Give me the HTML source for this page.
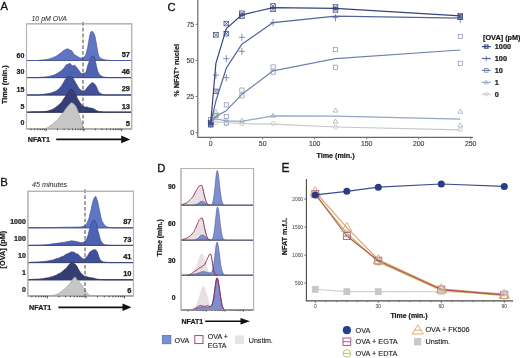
<!DOCTYPE html>
<html><head><meta charset="utf-8"><style>
html,body{margin:0;padding:0;background:#fff;width:520px;height:358px;overflow:hidden}
svg{display:block;font-family:"Liberation Sans", sans-serif;filter:blur(0.35px)}
</style></head><body>
<svg width="520" height="358" viewBox="0 0 520 358">
<rect width="520" height="358" fill="#fff"/>
<rect x="26.5" y="23.8" width="105.2" height="105.0" fill="#fff" stroke="#b4b4b4" stroke-width="1.1"/>
<path d="M27.0,60.50 L27.0,60.50 L27.5,60.50 L28.0,60.50 L28.5,60.50 L29.0,60.50 L29.5,60.50 L30.0,60.50 L30.5,60.50 L31.0,60.50 L31.5,60.50 L32.0,60.50 L32.5,60.50 L33.0,60.50 L33.5,60.50 L34.0,60.50 L34.5,60.50 L35.0,60.50 L35.5,60.50 L36.0,60.50 L36.5,60.50 L37.0,60.50 L37.5,60.50 L38.0,60.50 L38.5,60.50 L39.0,60.50 L39.5,60.18 L40.0,60.15 L40.5,60.11 L41.0,60.07 L41.5,60.03 L42.0,59.99 L42.5,59.94 L43.0,59.89 L43.5,59.83 L44.0,59.78 L44.5,59.71 L45.0,59.65 L45.5,59.58 L46.0,59.51 L46.5,59.41 L47.0,59.30 L47.5,59.20 L48.0,59.13 L48.5,59.13 L49.0,59.06 L49.5,58.88 L50.0,58.60 L50.5,58.35 L51.0,58.24 L51.5,58.15 L52.0,58.13 L52.5,57.85 L53.0,57.63 L53.5,57.21 L54.0,57.13 L54.5,57.00 L55.0,56.79 L55.5,56.53 L56.0,56.13 L56.5,56.00 L57.0,55.44 L57.5,55.29 L58.0,54.97 L58.5,54.77 L59.0,54.12 L59.5,53.47 L60.0,53.15 L60.5,53.14 L61.0,53.09 L61.5,52.83 L62.0,52.04 L62.5,51.44 L63.0,50.87 L63.5,50.66 L64.0,50.53 L64.5,50.04 L65.0,49.71 L65.5,49.49 L66.0,49.43 L66.5,49.19 L67.0,48.90 L67.5,48.79 L68.0,48.85 L68.5,49.17 L69.0,49.26 L69.5,49.81 L70.0,50.02 L70.5,50.33 L71.0,50.37 L71.5,50.68 L72.0,51.08 L72.5,51.99 L73.0,52.60 L73.5,53.55 L74.0,54.15 L74.5,54.80 L75.0,55.23 L75.5,55.33 L76.0,55.59 L76.5,55.73 L77.0,56.12 L77.5,56.40 L78.0,56.84 L78.5,57.09 L79.0,57.40 L79.5,57.68 L80.0,57.77 L80.5,57.97 L81.0,57.99 L81.5,58.17 L82.0,57.96 L82.5,57.84 L83.0,57.67 L83.5,57.58 L84.0,57.19 L84.5,56.76 L85.0,56.03 L85.5,55.33 L86.0,53.92 L86.5,52.35 L87.0,50.21 L87.5,48.34 L88.0,45.95 L88.5,43.14 L89.0,39.77 L89.5,37.05 L90.0,34.87 L90.5,32.97 L91.0,31.77 L91.5,31.28 L92.0,31.14 L92.5,31.58 L93.0,32.08 L93.5,32.91 L94.0,33.63 L94.5,34.85 L95.0,36.61 L95.5,38.59 L96.0,41.56 L96.5,44.48 L97.0,47.80 L97.5,50.51 L98.0,53.28 L98.5,55.06 L99.0,56.35 L99.5,56.93 L100.0,57.51 L100.5,57.92 L101.0,58.44 L101.5,58.71 L102.0,58.97 L102.5,59.11 L103.0,59.32 L103.5,59.47 L104.0,59.54 L104.5,59.68 L105.0,59.81 L105.5,59.92 L106.0,60.02 L106.5,60.11 L107.0,60.18 L107.5,60.23 L108.0,60.28 L108.5,60.31 L109.0,60.34 L109.5,60.37 L110.0,60.40 L110.5,60.50 L111.0,60.50 L111.5,60.50 L112.0,60.50 L112.5,60.50 L113.0,60.50 L113.5,60.50 L114.0,60.50 L114.5,60.50 L115.0,60.50 L115.5,60.50 L116.0,60.50 L116.5,60.50 L117.0,60.50 L117.5,60.50 L118.0,60.50 L118.5,60.50 L119.0,60.50 L119.5,60.50 L120.0,60.50 L120.5,60.50 L121.0,60.50 L121.5,60.50 L122.0,60.50 L122.5,60.50 L123.0,60.50 L123.5,60.50 L124.0,60.50 L124.5,60.50 L125.0,60.50 L125.5,60.50 L126.0,60.50 L126.5,60.50 L127.0,60.50 L127.5,60.50 L128.0,60.50 L128.5,60.50 L129.0,60.50 L129.5,60.50 L130.0,60.50 L130.5,60.50 L131.0,60.50 L131.2,60.50 Z" fill="#6076c4" stroke="#44559c" stroke-width="0.7" stroke-linejoin="round"/>
<line x1="26.5" y1="60.50" x2="131.7" y2="60.50" stroke="#4c5890" stroke-width="1.0"/>
<path d="M27.0,77.60 L27.0,77.60 L27.5,77.60 L28.0,77.60 L28.5,77.60 L29.0,77.60 L29.5,77.60 L30.0,77.60 L30.5,77.60 L31.0,77.60 L31.5,77.60 L32.0,77.60 L32.5,77.60 L33.0,77.60 L33.5,77.60 L34.0,77.60 L34.5,77.60 L35.0,77.60 L35.5,77.60 L36.0,77.60 L36.5,77.60 L37.0,77.60 L37.5,77.60 L38.0,77.60 L38.5,77.60 L39.0,77.60 L39.5,77.29 L40.0,77.26 L40.5,77.24 L41.0,77.22 L41.5,77.19 L42.0,77.17 L42.5,77.14 L43.0,77.10 L43.5,77.07 L44.0,77.03 L44.5,76.99 L45.0,76.95 L45.5,76.90 L46.0,76.84 L46.5,76.79 L47.0,76.72 L47.5,76.65 L48.0,76.66 L48.5,76.56 L49.0,76.42 L49.5,76.25 L50.0,76.15 L50.5,75.99 L51.0,75.94 L51.5,75.77 L52.0,75.65 L52.5,75.49 L53.0,75.33 L53.5,75.25 L54.0,75.09 L54.5,74.83 L55.0,74.56 L55.5,74.32 L56.0,74.14 L56.5,73.86 L57.0,73.34 L57.5,73.22 L58.0,72.89 L58.5,72.84 L59.0,72.24 L59.5,72.09 L60.0,71.40 L60.5,71.29 L61.0,71.00 L61.5,70.73 L62.0,69.94 L62.5,69.39 L63.0,69.01 L63.5,68.88 L64.0,68.08 L64.5,67.40 L65.0,66.54 L65.5,65.92 L66.0,65.18 L66.5,64.74 L67.0,64.68 L67.5,64.53 L68.0,64.33 L68.5,63.93 L69.0,63.59 L69.5,63.53 L70.0,63.50 L70.5,63.87 L71.0,64.43 L71.5,64.95 L72.0,65.45 L72.5,65.79 L73.0,66.01 L73.5,65.73 L74.0,65.31 L74.5,65.30 L75.0,65.60 L75.5,66.24 L76.0,66.55 L76.5,67.42 L77.0,67.86 L77.5,68.66 L78.0,69.23 L78.5,69.91 L79.0,70.47 L79.5,71.19 L80.0,71.99 L80.5,72.85 L81.0,73.26 L81.5,73.52 L82.0,73.58 L82.5,73.55 L83.0,73.43 L83.5,73.33 L84.0,73.17 L84.5,73.15 L85.0,72.86 L85.5,72.63 L86.0,71.81 L86.5,70.36 L87.0,68.49 L87.5,66.49 L88.0,64.77 L88.5,63.33 L89.0,62.12 L89.5,60.78 L90.0,59.75 L90.5,58.78 L91.0,57.85 L91.5,56.77 L92.0,55.97 L92.5,55.93 L93.0,55.96 L93.5,56.16 L94.0,56.58 L94.5,57.61 L95.0,59.27 L95.5,61.67 L96.0,63.99 L96.5,66.48 L97.0,68.60 L97.5,70.56 L98.0,71.74 L98.5,72.76 L99.0,73.74 L99.5,74.37 L100.0,75.01 L100.5,75.39 L101.0,75.80 L101.5,76.11 L102.0,76.32 L102.5,76.49 L103.0,76.71 L103.5,76.90 L104.0,77.06 L104.5,77.18 L105.0,77.27 L105.5,77.33 L106.0,77.38 L106.5,77.42 L107.0,77.45 L107.5,77.47 L108.0,77.50 L108.5,77.60 L109.0,77.60 L109.5,77.60 L110.0,77.60 L110.5,77.60 L111.0,77.60 L111.5,77.60 L112.0,77.60 L112.5,77.60 L113.0,77.60 L113.5,77.60 L114.0,77.60 L114.5,77.60 L115.0,77.60 L115.5,77.60 L116.0,77.60 L116.5,77.60 L117.0,77.60 L117.5,77.60 L118.0,77.60 L118.5,77.60 L119.0,77.60 L119.5,77.60 L120.0,77.60 L120.5,77.60 L121.0,77.60 L121.5,77.60 L122.0,77.60 L122.5,77.60 L123.0,77.60 L123.5,77.60 L124.0,77.60 L124.5,77.60 L125.0,77.60 L125.5,77.60 L126.0,77.60 L126.5,77.60 L127.0,77.60 L127.5,77.60 L128.0,77.60 L128.5,77.60 L129.0,77.60 L129.5,77.60 L130.0,77.60 L130.5,77.60 L131.0,77.60 L131.2,77.60 Z" fill="#4f63b2" stroke="#37468c" stroke-width="0.7" stroke-linejoin="round"/>
<line x1="26.5" y1="77.60" x2="131.7" y2="77.60" stroke="#414c80" stroke-width="1.0"/>
<path d="M27.0,95.00 L27.0,95.00 L27.5,95.00 L28.0,95.00 L28.5,95.00 L29.0,95.00 L29.5,95.00 L30.0,95.00 L30.5,95.00 L31.0,95.00 L31.5,95.00 L32.0,95.00 L32.5,95.00 L33.0,95.00 L33.5,95.00 L34.0,95.00 L34.5,95.00 L35.0,95.00 L35.5,95.00 L36.0,95.00 L36.5,95.00 L37.0,95.00 L37.5,95.00 L38.0,95.00 L38.5,95.00 L39.0,95.00 L39.5,94.68 L40.0,94.64 L40.5,94.60 L41.0,94.55 L41.5,94.50 L42.0,94.44 L42.5,94.38 L43.0,94.32 L43.5,94.25 L44.0,94.19 L44.5,94.11 L45.0,94.04 L45.5,93.99 L46.0,93.86 L46.5,93.75 L47.0,93.67 L47.5,93.65 L48.0,93.63 L48.5,93.53 L49.0,93.41 L49.5,93.33 L50.0,93.27 L50.5,93.06 L51.0,92.88 L51.5,92.81 L52.0,92.65 L52.5,92.52 L53.0,92.20 L53.5,92.00 L54.0,91.80 L54.5,91.73 L55.0,91.57 L55.5,91.15 L56.0,90.94 L56.5,90.75 L57.0,90.44 L57.5,89.81 L58.0,89.44 L58.5,89.26 L59.0,89.04 L59.5,88.33 L60.0,87.53 L60.5,87.25 L61.0,86.61 L61.5,86.04 L62.0,85.17 L62.5,84.26 L63.0,83.48 L63.5,82.49 L64.0,81.73 L64.5,80.68 L65.0,79.72 L65.5,79.12 L66.0,78.53 L66.5,77.88 L67.0,77.30 L67.5,76.77 L68.0,76.65 L68.5,76.52 L69.0,76.62 L69.5,76.46 L70.0,76.29 L70.5,76.20 L71.0,76.49 L71.5,76.93 L72.0,77.24 L72.5,77.66 L73.0,78.01 L73.5,78.94 L74.0,79.81 L74.5,80.86 L75.0,81.56 L75.5,82.66 L76.0,83.45 L76.5,84.29 L77.0,84.99 L77.5,85.94 L78.0,86.90 L78.5,87.73 L79.0,88.60 L79.5,89.05 L80.0,89.25 L80.5,89.72 L81.0,90.36 L81.5,90.78 L82.0,90.87 L82.5,90.81 L83.0,90.87 L83.5,90.94 L84.0,90.83 L84.5,90.57 L85.0,90.25 L85.5,89.82 L86.0,89.25 L86.5,88.47 L87.0,87.85 L87.5,87.08 L88.0,86.49 L88.5,86.17 L89.0,85.58 L89.5,84.96 L90.0,84.23 L90.5,83.93 L91.0,83.42 L91.5,83.15 L92.0,82.82 L92.5,82.73 L93.0,82.87 L93.5,83.26 L94.0,83.55 L94.5,83.90 L95.0,84.40 L95.5,85.24 L96.0,85.98 L96.5,86.92 L97.0,88.18 L97.5,89.54 L98.0,90.71 L98.5,91.59 L99.0,92.17 L99.5,92.66 L100.0,93.18 L100.5,93.46 L101.0,93.74 L101.5,93.95 L102.0,94.16 L102.5,94.34 L103.0,94.49 L103.5,94.63 L104.0,94.74 L104.5,94.82 L105.0,94.88 L105.5,94.92 L106.0,94.95 L106.5,94.96 L107.0,94.98 L107.5,94.99 L108.0,95.00 L108.5,95.00 L109.0,95.00 L109.5,95.00 L110.0,95.00 L110.5,95.00 L111.0,95.00 L111.5,95.00 L112.0,95.00 L112.5,95.00 L113.0,95.00 L113.5,95.00 L114.0,95.00 L114.5,95.00 L115.0,95.00 L115.5,95.00 L116.0,95.00 L116.5,95.00 L117.0,95.00 L117.5,95.00 L118.0,95.00 L118.5,95.00 L119.0,95.00 L119.5,95.00 L120.0,95.00 L120.5,95.00 L121.0,95.00 L121.5,95.00 L122.0,95.00 L122.5,95.00 L123.0,95.00 L123.5,95.00 L124.0,95.00 L124.5,95.00 L125.0,95.00 L125.5,95.00 L126.0,95.00 L126.5,95.00 L127.0,95.00 L127.5,95.00 L128.0,95.00 L128.5,95.00 L129.0,95.00 L129.5,95.00 L130.0,95.00 L130.5,95.00 L131.0,95.00 L131.2,95.00 Z" fill="#43519c" stroke="#2f3b78" stroke-width="0.7" stroke-linejoin="round"/>
<line x1="26.5" y1="95.00" x2="131.7" y2="95.00" stroke="#3a4470" stroke-width="1.0"/>
<path d="M27.0,112.20 L27.0,112.20 L27.5,112.20 L28.0,112.20 L28.5,112.20 L29.0,112.20 L29.5,112.20 L30.0,111.90 L30.5,111.89 L31.0,111.89 L31.5,111.88 L32.0,111.87 L32.5,111.87 L33.0,111.86 L33.5,111.86 L34.0,111.85 L34.5,111.84 L35.0,111.84 L35.5,111.83 L36.0,111.82 L36.5,111.82 L37.0,111.81 L37.5,111.80 L38.0,111.79 L38.5,111.77 L39.0,111.76 L39.5,111.75 L40.0,111.73 L40.5,111.71 L41.0,111.69 L41.5,111.67 L42.0,111.64 L42.5,111.61 L43.0,111.58 L43.5,111.55 L44.0,111.51 L44.5,111.48 L45.0,111.44 L45.5,111.38 L46.0,111.29 L46.5,111.28 L47.0,111.17 L47.5,111.00 L48.0,110.90 L48.5,110.79 L49.0,110.70 L49.5,110.46 L50.0,110.26 L50.5,110.12 L51.0,109.93 L51.5,109.70 L52.0,109.54 L52.5,109.43 L53.0,109.17 L53.5,108.70 L54.0,108.38 L54.5,108.16 L55.0,107.86 L55.5,107.41 L56.0,107.11 L56.5,106.86 L57.0,106.34 L57.5,106.03 L58.0,105.71 L58.5,105.28 L59.0,104.76 L59.5,104.15 L60.0,103.86 L60.5,103.29 L61.0,102.64 L61.5,102.22 L62.0,101.68 L62.5,101.00 L63.0,99.92 L63.5,99.13 L64.0,98.32 L64.5,97.70 L65.0,96.88 L65.5,96.34 L66.0,95.52 L66.5,94.78 L67.0,94.32 L67.5,93.51 L68.0,92.80 L68.5,91.76 L69.0,91.38 L69.5,90.71 L70.0,90.09 L70.5,89.63 L71.0,89.14 L71.5,89.14 L72.0,89.21 L72.5,89.88 L73.0,90.39 L73.5,91.17 L74.0,92.09 L74.5,93.23 L75.0,93.71 L75.5,94.26 L76.0,94.94 L76.5,96.11 L77.0,97.46 L77.5,98.67 L78.0,99.49 L78.5,100.27 L79.0,101.09 L79.5,102.02 L80.0,102.48 L80.5,103.29 L81.0,104.04 L81.5,104.90 L82.0,105.45 L82.5,105.80 L83.0,105.94 L83.5,106.27 L84.0,106.43 L84.5,106.93 L85.0,107.02 L85.5,107.16 L86.0,107.12 L86.5,107.01 L87.0,106.98 L87.5,107.27 L88.0,107.40 L88.5,107.79 L89.0,107.63 L89.5,107.94 L90.0,107.70 L90.5,107.94 L91.0,107.97 L91.5,108.37 L92.0,108.31 L92.5,108.38 L93.0,108.54 L93.5,108.67 L94.0,108.93 L94.5,109.23 L95.0,109.67 L95.5,109.96 L96.0,110.26 L96.5,110.51 L97.0,110.77 L97.5,111.02 L98.0,111.21 L98.5,111.36 L99.0,111.48 L99.5,111.57 L100.0,111.65 L100.5,111.71 L101.0,111.76 L101.5,111.81 L102.0,111.87 L102.5,111.92 L103.0,111.96 L103.5,112.00 L104.0,112.04 L104.5,112.07 L105.0,112.09 L105.5,112.12 L106.0,112.14 L106.5,112.16 L107.0,112.17 L107.5,112.19 L108.0,112.20 L108.5,112.20 L109.0,112.20 L109.5,112.20 L110.0,112.20 L110.5,112.20 L111.0,112.20 L111.5,112.20 L112.0,112.20 L112.5,112.20 L113.0,112.20 L113.5,112.20 L114.0,112.20 L114.5,112.20 L115.0,112.20 L115.5,112.20 L116.0,112.20 L116.5,112.20 L117.0,112.20 L117.5,112.20 L118.0,112.20 L118.5,112.20 L119.0,112.20 L119.5,112.20 L120.0,112.20 L120.5,112.20 L121.0,112.20 L121.5,112.20 L122.0,112.20 L122.5,112.20 L123.0,112.20 L123.5,112.20 L124.0,112.20 L124.5,112.20 L125.0,112.20 L125.5,112.20 L126.0,112.20 L126.5,112.20 L127.0,112.20 L127.5,112.20 L128.0,112.20 L128.5,112.20 L129.0,112.20 L129.5,112.20 L130.0,112.20 L130.5,112.20 L131.0,112.20 L131.2,112.20 Z" fill="#363f74" stroke="#252c55" stroke-width="0.7" stroke-linejoin="round"/>
<line x1="26.5" y1="112.20" x2="131.7" y2="112.20" stroke="#30385e" stroke-width="1.0"/>
<path d="M27.0,128.80 L27.0,128.80 L27.5,128.80 L28.0,128.80 L28.5,128.80 L29.0,128.80 L29.5,128.80 L30.0,128.80 L30.5,128.80 L31.0,128.80 L31.5,128.80 L32.0,128.80 L32.5,128.80 L33.0,128.80 L33.5,128.80 L34.0,128.80 L34.5,128.80 L35.0,128.80 L35.5,128.80 L36.0,128.80 L36.5,128.80 L37.0,128.80 L37.5,128.80 L38.0,128.80 L38.5,128.80 L39.0,128.80 L39.5,128.80 L40.0,128.80 L40.5,128.80 L41.0,128.80 L41.5,128.80 L42.0,128.80 L42.5,128.78 L43.0,128.76 L43.5,128.74 L44.0,128.71 L44.5,128.66 L45.0,128.58 L45.5,128.47 L46.0,128.32 L46.5,128.14 L47.0,127.87 L47.5,127.49 L48.0,127.20 L48.5,126.94 L49.0,126.64 L49.5,126.27 L50.0,125.92 L50.5,125.52 L51.0,125.14 L51.5,124.87 L52.0,124.59 L52.5,124.45 L53.0,124.08 L53.5,123.52 L54.0,122.72 L54.5,122.06 L55.0,121.66 L55.5,121.25 L56.0,121.04 L56.5,120.78 L57.0,120.36 L57.5,119.85 L58.0,119.00 L58.5,118.40 L59.0,117.62 L59.5,117.16 L60.0,116.45 L60.5,116.05 L61.0,115.46 L61.5,114.95 L62.0,114.11 L62.5,113.44 L63.0,112.78 L63.5,112.13 L64.0,111.43 L64.5,110.83 L65.0,109.95 L65.5,109.07 L66.0,108.38 L66.5,107.99 L67.0,107.45 L67.5,106.74 L68.0,105.96 L68.5,105.36 L69.0,104.80 L69.5,104.41 L70.0,103.88 L70.5,103.22 L71.0,102.94 L71.5,102.85 L72.0,102.95 L72.5,102.95 L73.0,103.31 L73.5,103.70 L74.0,104.31 L74.5,104.76 L75.0,105.32 L75.5,105.79 L76.0,106.63 L76.5,107.66 L77.0,108.65 L77.5,110.01 L78.0,111.29 L78.5,113.09 L79.0,114.71 L79.5,116.43 L80.0,117.84 L80.5,119.45 L81.0,121.06 L81.5,122.95 L82.0,124.36 L82.5,125.70 L83.0,126.83 L83.5,127.61 L84.0,128.22 L84.5,128.55 L85.0,128.71 L85.5,128.80 L86.0,128.80 L86.5,128.80 L87.0,128.80 L87.5,128.80 L88.0,128.80 L88.5,128.80 L89.0,128.80 L89.5,128.80 L90.0,128.80 L90.5,128.80 L91.0,128.80 L91.5,128.80 L92.0,128.80 L92.5,128.80 L93.0,128.80 L93.5,128.80 L94.0,128.80 L94.5,128.80 L95.0,128.80 L95.5,128.80 L96.0,128.80 L96.5,128.80 L97.0,128.80 L97.5,128.80 L98.0,128.80 L98.5,128.80 L99.0,128.80 L99.5,128.80 L100.0,128.80 L100.5,128.80 L101.0,128.80 L101.5,128.80 L102.0,128.80 L102.5,128.80 L103.0,128.80 L103.5,128.80 L104.0,128.80 L104.5,128.80 L105.0,128.80 L105.5,128.80 L106.0,128.80 L106.5,128.80 L107.0,128.80 L107.5,128.80 L108.0,128.80 L108.5,128.80 L109.0,128.80 L109.5,128.80 L110.0,128.80 L110.5,128.80 L111.0,128.80 L111.5,128.80 L112.0,128.80 L112.5,128.80 L113.0,128.80 L113.5,128.80 L114.0,128.80 L114.5,128.80 L115.0,128.80 L115.5,128.80 L116.0,128.80 L116.5,128.80 L117.0,128.80 L117.5,128.80 L118.0,128.80 L118.5,128.80 L119.0,128.80 L119.5,128.80 L120.0,128.80 L120.5,128.80 L121.0,128.80 L121.5,128.80 L122.0,128.80 L122.5,128.80 L123.0,128.80 L123.5,128.80 L124.0,128.80 L124.5,128.80 L125.0,128.80 L125.5,128.80 L126.0,128.80 L126.5,128.80 L127.0,128.80 L127.5,128.80 L128.0,128.80 L128.5,128.80 L129.0,128.80 L129.5,128.80 L130.0,128.80 L130.5,128.80 L131.0,128.80 L131.2,128.80 Z" fill="#c6c6c6" stroke="#a0a0a0" stroke-width="0.7" stroke-linejoin="round"/>
<line x1="26.5" y1="128.80" x2="131.7" y2="128.80" stroke="#8a8a8a" stroke-width="1.0"/>
<line x1="83.0" y1="22.0" x2="83.0" y2="128.8" stroke="#505050" stroke-width="1.05" stroke-dasharray="3.8,2"/>
<rect x="26.5" y="23.8" width="105.2" height="105.0" fill="none" stroke="#b4b4b4" stroke-width="1.1"/>
<line x1="31.1" y1="128.8" x2="31.1" y2="130.2" stroke="#222" stroke-width="0.85"/>
<line x1="34.7" y1="128.8" x2="34.7" y2="130.2" stroke="#222" stroke-width="0.85"/>
<line x1="37.7" y1="128.8" x2="37.7" y2="130.2" stroke="#222" stroke-width="0.85"/>
<line x1="40.2" y1="128.8" x2="40.2" y2="130.2" stroke="#222" stroke-width="0.85"/>
<line x1="42.4" y1="128.8" x2="42.4" y2="130.2" stroke="#222" stroke-width="0.85"/>
<line x1="44.4" y1="128.8" x2="44.4" y2="130.2" stroke="#222" stroke-width="0.85"/>
<line x1="46.1" y1="128.8" x2="46.1" y2="131.2" stroke="#222" stroke-width="0.85"/>
<line x1="57.5" y1="128.8" x2="57.5" y2="130.2" stroke="#222" stroke-width="0.85"/>
<line x1="64.1" y1="128.8" x2="64.1" y2="130.2" stroke="#222" stroke-width="0.85"/>
<line x1="68.9" y1="128.8" x2="68.9" y2="130.2" stroke="#222" stroke-width="0.85"/>
<line x1="72.5" y1="128.8" x2="72.5" y2="130.2" stroke="#222" stroke-width="0.85"/>
<line x1="75.5" y1="128.8" x2="75.5" y2="130.2" stroke="#222" stroke-width="0.85"/>
<line x1="78.0" y1="128.8" x2="78.0" y2="130.2" stroke="#222" stroke-width="0.85"/>
<line x1="80.2" y1="128.8" x2="80.2" y2="130.2" stroke="#222" stroke-width="0.85"/>
<line x1="82.2" y1="128.8" x2="82.2" y2="130.2" stroke="#222" stroke-width="0.85"/>
<line x1="83.9" y1="128.8" x2="83.9" y2="131.2" stroke="#222" stroke-width="0.85"/>
<line x1="95.3" y1="128.8" x2="95.3" y2="130.2" stroke="#222" stroke-width="0.85"/>
<line x1="101.9" y1="128.8" x2="101.9" y2="130.2" stroke="#222" stroke-width="0.85"/>
<line x1="106.7" y1="128.8" x2="106.7" y2="130.2" stroke="#222" stroke-width="0.85"/>
<line x1="110.3" y1="128.8" x2="110.3" y2="130.2" stroke="#222" stroke-width="0.85"/>
<line x1="113.3" y1="128.8" x2="113.3" y2="130.2" stroke="#222" stroke-width="0.85"/>
<line x1="115.8" y1="128.8" x2="115.8" y2="130.2" stroke="#222" stroke-width="0.85"/>
<line x1="118.0" y1="128.8" x2="118.0" y2="130.2" stroke="#222" stroke-width="0.85"/>
<line x1="120.0" y1="128.8" x2="120.0" y2="130.2" stroke="#222" stroke-width="0.85"/>
<line x1="121.7" y1="128.8" x2="121.7" y2="131.2" stroke="#222" stroke-width="0.85"/>
<text x="31.5" y="21.1" font-size="6.95" font-weight="normal" font-style="italic" text-anchor="start" fill="#3c3c3c"  stroke="#3c3c3c" stroke-width="0.10">10 pM OVA</text>
<text x="24.4" y="57.6" font-size="7.00" font-weight="bold" font-style="normal" text-anchor="end" fill="#1a1a1a"  stroke="#1a1a1a" stroke-width="0.22">60</text>
<text x="24.4" y="74.4" font-size="7.00" font-weight="bold" font-style="normal" text-anchor="end" fill="#1a1a1a"  stroke="#1a1a1a" stroke-width="0.22">30</text>
<text x="24.4" y="91.6" font-size="7.00" font-weight="bold" font-style="normal" text-anchor="end" fill="#1a1a1a"  stroke="#1a1a1a" stroke-width="0.22">15</text>
<text x="24.4" y="108.6" font-size="7.00" font-weight="bold" font-style="normal" text-anchor="end" fill="#1a1a1a"  stroke="#1a1a1a" stroke-width="0.22">5</text>
<text x="24.4" y="125.2" font-size="7.00" font-weight="bold" font-style="normal" text-anchor="end" fill="#1a1a1a"  stroke="#1a1a1a" stroke-width="0.22">0</text>
<text x="130.0" y="57.3" font-size="7.50" font-weight="bold" font-style="normal" text-anchor="end" fill="#1a1a1a"  stroke="#1a1a1a" stroke-width="0.25">57</text>
<text x="130.0" y="74.4" font-size="7.50" font-weight="bold" font-style="normal" text-anchor="end" fill="#1a1a1a"  stroke="#1a1a1a" stroke-width="0.25">46</text>
<text x="130.0" y="91.4" font-size="7.50" font-weight="bold" font-style="normal" text-anchor="end" fill="#1a1a1a"  stroke="#1a1a1a" stroke-width="0.25">29</text>
<text x="130.0" y="108.5" font-size="7.50" font-weight="bold" font-style="normal" text-anchor="end" fill="#1a1a1a"  stroke="#1a1a1a" stroke-width="0.25">13</text>
<text x="130.0" y="125.5" font-size="7.50" font-weight="bold" font-style="normal" text-anchor="end" fill="#1a1a1a"  stroke="#1a1a1a" stroke-width="0.25">5</text>
<text transform="translate(7.3,84.7) rotate(-90)" font-size="7.30" font-weight="bold" text-anchor="middle" fill="#1a1a1a" stroke="#1a1a1a" stroke-width="0.22">Time (min.)</text>
<text x="27.7" y="142.2" font-size="7.20" font-weight="bold" font-style="normal" text-anchor="start" fill="#1a1a1a"  stroke="#1a1a1a" stroke-width="0.22">NFAT1</text>
<line x1="56.2" y1="139.4" x2="122.2" y2="139.4" stroke="#111" stroke-width="1.7"/>
<path d="M121.2,135.6 L130.2,139.4 L121.2,143.2 Z" fill="#111"/>
<rect x="27.9" y="191.3" width="105.6" height="104.6" fill="#fff" stroke="#b4b4b4" stroke-width="1.1"/>
<path d="M28.4,227.80 L28.4,227.80 L28.9,227.80 L29.4,227.80 L29.9,227.80 L30.4,227.80 L30.9,227.79 L31.4,227.79 L31.9,227.79 L32.4,227.78 L32.9,227.78 L33.4,227.77 L33.9,227.77 L34.4,227.76 L34.9,227.76 L35.4,227.75 L35.9,227.74 L36.4,227.74 L36.9,227.73 L37.4,227.73 L37.9,227.72 L38.4,227.71 L38.9,227.71 L39.4,227.70 L39.9,227.69 L40.4,227.69 L40.9,227.68 L41.4,227.67 L41.9,227.66 L42.4,227.66 L42.9,227.65 L43.4,227.64 L43.9,227.63 L44.4,227.63 L44.9,227.62 L45.4,227.61 L45.9,227.60 L46.4,227.60 L46.9,227.59 L47.4,227.58 L47.9,227.57 L48.4,227.57 L48.9,227.56 L49.4,227.55 L49.9,227.54 L50.4,227.54 L50.9,227.53 L51.4,227.52 L51.9,227.52 L52.4,227.51 L52.9,227.50 L53.4,227.49 L53.9,227.48 L54.4,227.47 L54.9,227.46 L55.4,227.46 L55.9,227.45 L56.4,227.44 L56.9,227.43 L57.4,227.42 L57.9,227.41 L58.4,227.40 L58.9,227.39 L59.4,227.38 L59.9,227.37 L60.4,227.36 L60.9,227.35 L61.4,227.34 L61.9,227.33 L62.4,227.32 L62.9,227.31 L63.4,227.30 L63.9,227.29 L64.4,227.28 L64.9,227.27 L65.4,227.26 L65.9,227.25 L66.4,227.24 L66.9,227.23 L67.4,227.22 L67.9,227.21 L68.4,227.20 L68.9,227.19 L69.4,227.18 L69.9,227.17 L70.4,227.17 L70.9,227.16 L71.4,227.16 L71.9,227.16 L72.4,227.15 L72.9,227.15 L73.4,227.15 L73.9,227.14 L74.4,227.14 L74.9,227.13 L75.4,227.13 L75.9,227.12 L76.4,227.11 L76.9,227.10 L77.4,227.08 L77.9,227.07 L78.4,227.05 L78.9,227.02 L79.4,227.00 L79.9,226.97 L80.4,226.93 L80.9,226.88 L81.4,226.77 L81.9,226.63 L82.4,226.53 L82.9,226.41 L83.4,226.26 L83.9,226.03 L84.4,225.83 L84.9,225.60 L85.4,225.31 L85.9,224.68 L86.4,224.00 L86.9,223.14 L87.4,222.16 L87.9,220.92 L88.4,219.85 L88.9,218.47 L89.4,216.50 L89.9,214.33 L90.4,212.19 L90.9,210.39 L91.4,208.34 L91.9,205.78 L92.4,203.43 L92.9,201.25 L93.4,199.93 L93.9,198.61 L94.4,197.75 L94.9,196.77 L95.4,196.43 L95.9,196.64 L96.4,197.72 L96.9,199.48 L97.4,200.71 L97.9,202.80 L98.4,205.13 L98.9,207.66 L99.4,209.80 L99.9,212.11 L100.4,214.68 L100.9,217.11 L101.4,219.12 L101.9,220.67 L102.4,221.77 L102.9,222.57 L103.4,223.56 L103.9,224.38 L104.4,225.03 L104.9,225.45 L105.4,225.83 L105.9,226.15 L106.4,226.47 L106.9,226.77 L107.4,226.92 L107.9,227.09 L108.4,227.21 L108.9,227.31 L109.4,227.40 L109.9,227.48 L110.4,227.55 L110.9,227.61 L111.4,227.65 L111.9,227.69 L112.4,227.73 L112.9,227.75 L113.4,227.78 L113.9,227.80 L114.4,227.80 L114.9,227.80 L115.4,227.80 L115.9,227.80 L116.4,227.80 L116.9,227.80 L117.4,227.80 L117.9,227.80 L118.4,227.80 L118.9,227.80 L119.4,227.80 L119.9,227.80 L120.4,227.80 L120.9,227.80 L121.4,227.80 L121.9,227.80 L122.4,227.80 L122.9,227.80 L123.4,227.80 L123.9,227.80 L124.4,227.80 L124.9,227.80 L125.4,227.80 L125.9,227.80 L126.4,227.80 L126.9,227.80 L127.4,227.80 L127.9,227.80 L128.4,227.80 L128.9,227.80 L129.4,227.80 L129.9,227.80 L130.4,227.80 L130.9,227.80 L131.4,227.80 L131.9,227.80 L132.4,227.80 L132.9,227.80 L133.0,227.80 Z" fill="#5d76c6" stroke="#44559c" stroke-width="0.7" stroke-linejoin="round"/>
<line x1="27.9" y1="227.80" x2="133.5" y2="227.80" stroke="#4c5890" stroke-width="1.0"/>
<path d="M28.4,245.40 L28.4,245.40 L28.9,245.40 L29.4,245.40 L29.9,245.40 L30.4,245.39 L30.9,245.38 L31.4,245.37 L31.9,245.36 L32.4,245.35 L32.9,245.34 L33.4,245.33 L33.9,245.31 L34.4,245.30 L34.9,245.29 L35.4,245.27 L35.9,245.26 L36.4,245.24 L36.9,245.23 L37.4,245.21 L37.9,245.19 L38.4,245.17 L38.9,245.15 L39.4,245.13 L39.9,245.11 L40.4,245.09 L40.9,245.07 L41.4,245.04 L41.9,245.02 L42.4,244.99 L42.9,244.96 L43.4,244.93 L43.9,244.90 L44.4,244.87 L44.9,244.83 L45.4,244.80 L45.9,244.75 L46.4,244.70 L46.9,244.65 L47.4,244.59 L47.9,244.53 L48.4,244.47 L48.9,244.41 L49.4,244.36 L49.9,244.27 L50.4,244.20 L50.9,244.07 L51.4,244.09 L51.9,243.96 L52.4,243.86 L52.9,243.71 L53.4,243.67 L53.9,243.63 L54.4,243.60 L54.9,243.63 L55.4,243.59 L55.9,243.47 L56.4,243.34 L56.9,243.28 L57.4,243.17 L57.9,243.15 L58.4,242.97 L58.9,242.99 L59.4,242.92 L59.9,243.01 L60.4,242.88 L60.9,242.70 L61.4,242.52 L61.9,242.44 L62.4,242.37 L62.9,242.43 L63.4,242.45 L63.9,242.46 L64.4,242.38 L64.9,242.20 L65.4,242.09 L65.9,241.88 L66.4,241.86 L66.9,241.77 L67.4,241.64 L67.9,241.42 L68.4,241.29 L68.9,241.35 L69.4,241.36 L69.9,241.19 L70.4,241.14 L70.9,240.93 L71.4,240.82 L71.9,240.60 L72.4,240.85 L72.9,241.11 L73.4,241.30 L73.9,241.20 L74.4,241.20 L74.9,241.28 L75.4,241.36 L75.9,241.33 L76.4,241.46 L76.9,241.73 L77.4,241.94 L77.9,241.90 L78.4,241.98 L78.9,242.10 L79.4,242.40 L79.9,242.52 L80.4,242.71 L80.9,242.63 L81.4,242.55 L81.9,242.37 L82.4,242.43 L82.9,242.54 L83.4,242.39 L83.9,242.00 L84.4,241.43 L84.9,241.08 L85.4,240.66 L85.9,240.26 L86.4,239.40 L86.9,238.38 L87.4,236.99 L87.9,235.60 L88.4,233.65 L88.9,231.65 L89.4,229.66 L89.9,228.35 L90.4,226.71 L90.9,225.38 L91.4,224.10 L91.9,222.95 L92.4,221.68 L92.9,220.68 L93.4,220.40 L93.9,220.49 L94.4,220.57 L94.9,220.62 L95.4,221.17 L95.9,222.22 L96.4,223.81 L96.9,225.81 L97.4,228.27 L97.9,230.56 L98.4,232.35 L98.9,234.04 L99.4,235.85 L99.9,238.02 L100.4,239.64 L100.9,240.81 L101.4,241.50 L101.9,242.27 L102.4,242.96 L102.9,243.57 L103.4,243.98 L103.9,244.40 L104.4,244.55 L104.9,244.70 L105.4,244.81 L105.9,244.89 L106.4,244.94 L106.9,244.98 L107.4,245.01 L107.9,245.04 L108.4,245.09 L108.9,245.16 L109.4,245.22 L109.9,245.27 L110.4,245.31 L110.9,245.34 L111.4,245.37 L111.9,245.40 L112.4,245.40 L112.9,245.40 L113.4,245.40 L113.9,245.40 L114.4,245.40 L114.9,245.40 L115.4,245.40 L115.9,245.40 L116.4,245.40 L116.9,245.40 L117.4,245.40 L117.9,245.40 L118.4,245.40 L118.9,245.40 L119.4,245.40 L119.9,245.40 L120.4,245.40 L120.9,245.40 L121.4,245.40 L121.9,245.40 L122.4,245.40 L122.9,245.40 L123.4,245.40 L123.9,245.40 L124.4,245.40 L124.9,245.40 L125.4,245.40 L125.9,245.40 L126.4,245.40 L126.9,245.40 L127.4,245.40 L127.9,245.40 L128.4,245.40 L128.9,245.40 L129.4,245.40 L129.9,245.40 L130.4,245.40 L130.9,245.40 L131.4,245.40 L131.9,245.40 L132.4,245.40 L132.9,245.40 L133.0,245.40 Z" fill="#4d63b4" stroke="#37468c" stroke-width="0.7" stroke-linejoin="round"/>
<line x1="27.9" y1="245.40" x2="133.5" y2="245.40" stroke="#414c80" stroke-width="1.0"/>
<path d="M28.4,262.60 L28.4,262.60 L28.9,262.60 L29.4,262.60 L29.9,262.60 L30.4,262.29 L30.9,262.27 L31.4,262.26 L31.9,262.24 L32.4,262.22 L32.9,262.20 L33.4,262.18 L33.9,262.16 L34.4,262.14 L34.9,262.11 L35.4,262.09 L35.9,262.07 L36.4,262.04 L36.9,262.01 L37.4,261.99 L37.9,261.96 L38.4,261.93 L38.9,261.90 L39.4,261.86 L39.9,261.83 L40.4,261.80 L40.9,261.76 L41.4,261.73 L41.9,261.69 L42.4,261.65 L42.9,261.61 L43.4,261.57 L43.9,261.48 L44.4,261.49 L44.9,261.45 L45.4,261.40 L45.9,261.23 L46.4,261.19 L46.9,261.10 L47.4,261.06 L47.9,260.96 L48.4,260.91 L48.9,260.82 L49.4,260.69 L49.9,260.57 L50.4,260.39 L50.9,260.26 L51.4,260.19 L51.9,260.22 L52.4,260.14 L52.9,260.08 L53.4,259.88 L53.9,259.71 L54.4,259.50 L54.9,259.32 L55.4,259.05 L55.9,258.76 L56.4,258.55 L56.9,258.48 L57.4,258.48 L57.9,258.47 L58.4,258.35 L58.9,258.08 L59.4,257.84 L59.9,257.51 L60.4,257.43 L60.9,257.07 L61.4,257.03 L61.9,256.51 L62.4,256.58 L62.9,256.21 L63.4,256.31 L63.9,255.65 L64.4,255.41 L64.9,254.98 L65.4,254.72 L65.9,254.50 L66.4,254.17 L66.9,254.01 L67.4,253.67 L67.9,253.66 L68.4,253.44 L68.9,253.04 L69.4,252.83 L69.9,252.66 L70.4,252.46 L70.9,251.89 L71.4,251.85 L71.9,251.87 L72.4,252.01 L72.9,251.95 L73.4,252.20 L73.9,252.25 L74.4,252.50 L74.9,252.59 L75.4,253.19 L75.9,253.53 L76.4,253.88 L76.9,253.83 L77.4,253.91 L77.9,254.17 L78.4,254.52 L78.9,255.08 L79.4,255.70 L79.9,256.36 L80.4,256.82 L80.9,257.15 L81.4,257.51 L81.9,258.14 L82.4,258.51 L82.9,258.86 L83.4,259.05 L83.9,259.29 L84.4,259.10 L84.9,258.78 L85.4,258.23 L85.9,257.96 L86.4,257.24 L86.9,256.65 L87.4,255.93 L87.9,255.26 L88.4,254.47 L88.9,253.60 L89.4,253.00 L89.9,252.07 L90.4,251.62 L90.9,251.25 L91.4,251.07 L91.9,250.88 L92.4,250.31 L92.9,250.06 L93.4,249.86 L93.9,249.91 L94.4,249.90 L94.9,249.64 L95.4,249.70 L95.9,249.96 L96.4,250.66 L96.9,251.35 L97.4,252.26 L97.9,253.56 L98.4,255.31 L98.9,256.87 L99.4,258.05 L99.9,259.25 L100.4,259.97 L100.9,260.52 L101.4,260.89 L101.9,261.19 L102.4,261.51 L102.9,261.71 L103.4,261.90 L103.9,262.03 L104.4,262.11 L104.9,262.17 L105.4,262.20 L105.9,262.23 L106.4,262.26 L106.9,262.30 L107.4,262.36 L107.9,262.42 L108.4,262.48 L108.9,262.52 L109.4,262.56 L109.9,262.59 L110.4,262.60 L110.9,262.60 L111.4,262.60 L111.9,262.60 L112.4,262.60 L112.9,262.60 L113.4,262.60 L113.9,262.60 L114.4,262.60 L114.9,262.60 L115.4,262.60 L115.9,262.60 L116.4,262.60 L116.9,262.60 L117.4,262.60 L117.9,262.60 L118.4,262.60 L118.9,262.60 L119.4,262.60 L119.9,262.60 L120.4,262.60 L120.9,262.60 L121.4,262.60 L121.9,262.60 L122.4,262.60 L122.9,262.60 L123.4,262.60 L123.9,262.60 L124.4,262.60 L124.9,262.60 L125.4,262.60 L125.9,262.60 L126.4,262.60 L126.9,262.60 L127.4,262.60 L127.9,262.60 L128.4,262.60 L128.9,262.60 L129.4,262.60 L129.9,262.60 L130.4,262.60 L130.9,262.60 L131.4,262.60 L131.9,262.60 L132.4,262.60 L132.9,262.60 L133.0,262.60 Z" fill="#40509c" stroke="#2f3b78" stroke-width="0.7" stroke-linejoin="round"/>
<line x1="27.9" y1="262.60" x2="133.5" y2="262.60" stroke="#3a4470" stroke-width="1.0"/>
<path d="M28.4,279.80 L28.4,279.80 L28.9,279.80 L29.4,279.80 L29.9,279.80 L30.4,279.49 L30.9,279.47 L31.4,279.45 L31.9,279.44 L32.4,279.42 L32.9,279.40 L33.4,279.38 L33.9,279.36 L34.4,279.33 L34.9,279.31 L35.4,279.29 L35.9,279.26 L36.4,279.23 L36.9,279.20 L37.4,279.17 L37.9,279.13 L38.4,279.09 L38.9,279.05 L39.4,279.01 L39.9,278.96 L40.4,278.91 L40.9,278.86 L41.4,278.81 L41.9,278.77 L42.4,278.71 L42.9,278.69 L43.4,278.60 L43.9,278.49 L44.4,278.34 L44.9,278.19 L45.4,278.11 L45.9,278.12 L46.4,278.07 L46.9,277.96 L47.4,277.84 L47.9,277.76 L48.4,277.73 L48.9,277.58 L49.4,277.45 L49.9,277.20 L50.4,277.12 L50.9,276.98 L51.4,276.99 L51.9,276.74 L52.4,276.51 L52.9,276.41 L53.4,276.25 L53.9,276.15 L54.4,275.91 L54.9,275.60 L55.4,275.53 L55.9,275.29 L56.4,275.14 L56.9,274.76 L57.4,274.33 L57.9,274.36 L58.4,273.90 L58.9,273.61 L59.4,273.33 L59.9,273.48 L60.4,273.22 L60.9,272.68 L61.4,272.06 L61.9,271.82 L62.4,271.45 L62.9,270.98 L63.4,270.42 L63.9,269.89 L64.4,269.65 L64.9,269.35 L65.4,269.06 L65.9,268.63 L66.4,267.93 L66.9,267.46 L67.4,266.62 L67.9,266.17 L68.4,265.29 L68.9,264.82 L69.4,264.18 L69.9,263.80 L70.4,263.40 L70.9,263.05 L71.4,262.79 L71.9,263.01 L72.4,263.12 L72.9,263.25 L73.4,263.33 L73.9,263.49 L74.4,263.78 L74.9,263.94 L75.4,264.45 L75.9,264.92 L76.4,265.42 L76.9,266.20 L77.4,267.21 L77.9,268.29 L78.4,269.15 L78.9,270.01 L79.4,270.89 L79.9,271.47 L80.4,272.39 L80.9,272.88 L81.4,273.54 L81.9,273.89 L82.4,274.57 L82.9,275.08 L83.4,275.48 L83.9,275.83 L84.4,276.17 L84.9,276.26 L85.4,276.35 L85.9,276.40 L86.4,276.52 L86.9,276.66 L87.4,276.92 L87.9,277.12 L88.4,277.28 L88.9,277.26 L89.4,277.46 L89.9,277.48 L90.4,277.68 L90.9,277.63 L91.4,277.79 L91.9,277.85 L92.4,277.95 L92.9,278.05 L93.4,278.04 L93.9,278.19 L94.4,278.30 L94.9,278.50 L95.4,278.62 L95.9,278.71 L96.4,278.90 L96.9,279.03 L97.4,279.14 L97.9,279.23 L98.4,279.31 L98.9,279.38 L99.4,279.43 L99.9,279.48 L100.4,279.52 L100.9,279.56 L101.4,279.59 L101.9,279.62 L102.4,279.66 L102.9,279.69 L103.4,279.72 L103.9,279.74 L104.4,279.76 L104.9,279.78 L105.4,279.79 L105.9,279.80 L106.4,279.80 L106.9,279.80 L107.4,279.80 L107.9,279.80 L108.4,279.80 L108.9,279.80 L109.4,279.80 L109.9,279.80 L110.4,279.80 L110.9,279.80 L111.4,279.80 L111.9,279.80 L112.4,279.80 L112.9,279.80 L113.4,279.80 L113.9,279.80 L114.4,279.80 L114.9,279.80 L115.4,279.80 L115.9,279.80 L116.4,279.80 L116.9,279.80 L117.4,279.80 L117.9,279.80 L118.4,279.80 L118.9,279.80 L119.4,279.80 L119.9,279.80 L120.4,279.80 L120.9,279.80 L121.4,279.80 L121.9,279.80 L122.4,279.80 L122.9,279.80 L123.4,279.80 L123.9,279.80 L124.4,279.80 L124.9,279.80 L125.4,279.80 L125.9,279.80 L126.4,279.80 L126.9,279.80 L127.4,279.80 L127.9,279.80 L128.4,279.80 L128.9,279.80 L129.4,279.80 L129.9,279.80 L130.4,279.80 L130.9,279.80 L131.4,279.80 L131.9,279.80 L132.4,279.80 L132.9,279.80 L133.0,279.80 Z" fill="#343d72" stroke="#252c55" stroke-width="0.7" stroke-linejoin="round"/>
<line x1="27.9" y1="279.80" x2="133.5" y2="279.80" stroke="#30385e" stroke-width="1.0"/>
<path d="M28.4,295.90 L28.4,295.90 L28.9,295.90 L29.4,295.90 L29.9,295.90 L30.4,295.90 L30.9,295.90 L31.4,295.90 L31.9,295.90 L32.4,295.90 L32.9,295.90 L33.4,295.90 L33.9,295.90 L34.4,295.90 L34.9,295.90 L35.4,295.90 L35.9,295.90 L36.4,295.90 L36.9,295.90 L37.4,295.90 L37.9,295.90 L38.4,295.90 L38.9,295.90 L39.4,295.90 L39.9,295.90 L40.4,295.90 L40.9,295.90 L41.4,295.90 L41.9,295.90 L42.4,295.90 L42.9,295.90 L43.4,295.90 L43.9,295.90 L44.4,295.90 L44.9,295.90 L45.4,295.90 L45.9,295.90 L46.4,295.90 L46.9,295.90 L47.4,295.90 L47.9,295.90 L48.4,295.90 L48.9,295.90 L49.4,295.90 L49.9,295.90 L50.4,295.87 L50.9,295.82 L51.4,295.76 L51.9,295.69 L52.4,295.59 L52.9,295.46 L53.4,295.33 L53.9,295.22 L54.4,295.09 L54.9,294.96 L55.4,294.82 L55.9,294.61 L56.4,294.44 L56.9,294.24 L57.4,294.06 L57.9,293.83 L58.4,293.52 L58.9,293.11 L59.4,292.67 L59.9,292.35 L60.4,292.17 L60.9,292.02 L61.4,291.79 L61.9,291.23 L62.4,290.67 L62.9,290.10 L63.4,289.65 L63.9,289.36 L64.4,289.15 L64.9,289.04 L65.4,288.52 L65.9,287.88 L66.4,287.14 L66.9,286.72 L67.4,285.96 L67.9,285.48 L68.4,285.07 L68.9,284.41 L69.4,283.86 L69.9,283.13 L70.4,282.76 L70.9,281.96 L71.4,281.31 L71.9,280.38 L72.4,279.71 L72.9,278.89 L73.4,278.24 L73.9,277.75 L74.4,277.27 L74.9,277.28 L75.4,277.17 L75.9,277.98 L76.4,278.63 L76.9,279.44 L77.4,279.88 L77.9,280.54 L78.4,281.09 L78.9,281.45 L79.4,282.22 L79.9,282.90 L80.4,283.49 L80.9,284.01 L81.4,284.43 L81.9,285.31 L82.4,285.66 L82.9,286.76 L83.4,287.51 L83.9,288.68 L84.4,289.37 L84.9,290.05 L85.4,290.47 L85.9,291.11 L86.4,291.95 L86.9,292.77 L87.4,293.46 L87.9,293.85 L88.4,294.29 L88.9,294.64 L89.4,295.05 L89.9,295.33 L90.4,295.56 L90.9,295.79 L91.4,295.87 L91.9,295.89 L92.4,295.90 L92.9,295.90 L93.4,295.90 L93.9,295.90 L94.4,295.90 L94.9,295.90 L95.4,295.90 L95.9,295.90 L96.4,295.90 L96.9,295.90 L97.4,295.90 L97.9,295.90 L98.4,295.90 L98.9,295.90 L99.4,295.90 L99.9,295.90 L100.4,295.90 L100.9,295.90 L101.4,295.90 L101.9,295.90 L102.4,295.90 L102.9,295.90 L103.4,295.90 L103.9,295.90 L104.4,295.90 L104.9,295.90 L105.4,295.90 L105.9,295.90 L106.4,295.90 L106.9,295.90 L107.4,295.90 L107.9,295.90 L108.4,295.90 L108.9,295.90 L109.4,295.90 L109.9,295.90 L110.4,295.90 L110.9,295.90 L111.4,295.90 L111.9,295.90 L112.4,295.90 L112.9,295.90 L113.4,295.90 L113.9,295.90 L114.4,295.90 L114.9,295.90 L115.4,295.90 L115.9,295.90 L116.4,295.90 L116.9,295.90 L117.4,295.90 L117.9,295.90 L118.4,295.90 L118.9,295.90 L119.4,295.90 L119.9,295.90 L120.4,295.90 L120.9,295.90 L121.4,295.90 L121.9,295.90 L122.4,295.90 L122.9,295.90 L123.4,295.90 L123.9,295.90 L124.4,295.90 L124.9,295.90 L125.4,295.90 L125.9,295.90 L126.4,295.90 L126.9,295.90 L127.4,295.90 L127.9,295.90 L128.4,295.90 L128.9,295.90 L129.4,295.90 L129.9,295.90 L130.4,295.90 L130.9,295.90 L131.4,295.90 L131.9,295.90 L132.4,295.90 L132.9,295.90 L133.0,295.90 Z" fill="#c6c6c6" stroke="#a0a0a0" stroke-width="0.7" stroke-linejoin="round"/>
<line x1="27.9" y1="295.90" x2="133.5" y2="295.90" stroke="#8a8a8a" stroke-width="1.0"/>
<line x1="85.0" y1="189.5" x2="85.0" y2="295.9" stroke="#505050" stroke-width="1.05" stroke-dasharray="3.8,2"/>
<rect x="27.9" y="191.3" width="105.6" height="104.6" fill="none" stroke="#b4b4b4" stroke-width="1.1"/>
<line x1="31.9" y1="295.9" x2="31.9" y2="297.3" stroke="#222" stroke-width="0.85"/>
<line x1="35.7" y1="295.9" x2="35.7" y2="297.3" stroke="#222" stroke-width="0.85"/>
<line x1="38.7" y1="295.9" x2="38.7" y2="297.3" stroke="#222" stroke-width="0.85"/>
<line x1="41.3" y1="295.9" x2="41.3" y2="297.3" stroke="#222" stroke-width="0.85"/>
<line x1="43.6" y1="295.9" x2="43.6" y2="297.3" stroke="#222" stroke-width="0.85"/>
<line x1="45.5" y1="295.9" x2="45.5" y2="297.3" stroke="#222" stroke-width="0.85"/>
<line x1="47.3" y1="295.9" x2="47.3" y2="298.3" stroke="#222" stroke-width="0.85"/>
<line x1="58.9" y1="295.9" x2="58.9" y2="297.3" stroke="#222" stroke-width="0.85"/>
<line x1="65.7" y1="295.9" x2="65.7" y2="297.3" stroke="#222" stroke-width="0.85"/>
<line x1="70.5" y1="295.9" x2="70.5" y2="297.3" stroke="#222" stroke-width="0.85"/>
<line x1="74.3" y1="295.9" x2="74.3" y2="297.3" stroke="#222" stroke-width="0.85"/>
<line x1="77.3" y1="295.9" x2="77.3" y2="297.3" stroke="#222" stroke-width="0.85"/>
<line x1="79.9" y1="295.9" x2="79.9" y2="297.3" stroke="#222" stroke-width="0.85"/>
<line x1="82.2" y1="295.9" x2="82.2" y2="297.3" stroke="#222" stroke-width="0.85"/>
<line x1="84.1" y1="295.9" x2="84.1" y2="297.3" stroke="#222" stroke-width="0.85"/>
<line x1="85.9" y1="295.9" x2="85.9" y2="298.3" stroke="#222" stroke-width="0.85"/>
<line x1="97.5" y1="295.9" x2="97.5" y2="297.3" stroke="#222" stroke-width="0.85"/>
<line x1="104.3" y1="295.9" x2="104.3" y2="297.3" stroke="#222" stroke-width="0.85"/>
<line x1="109.1" y1="295.9" x2="109.1" y2="297.3" stroke="#222" stroke-width="0.85"/>
<line x1="112.9" y1="295.9" x2="112.9" y2="297.3" stroke="#222" stroke-width="0.85"/>
<line x1="115.9" y1="295.9" x2="115.9" y2="297.3" stroke="#222" stroke-width="0.85"/>
<line x1="118.5" y1="295.9" x2="118.5" y2="297.3" stroke="#222" stroke-width="0.85"/>
<line x1="120.8" y1="295.9" x2="120.8" y2="297.3" stroke="#222" stroke-width="0.85"/>
<line x1="122.7" y1="295.9" x2="122.7" y2="297.3" stroke="#222" stroke-width="0.85"/>
<line x1="124.5" y1="295.9" x2="124.5" y2="298.3" stroke="#222" stroke-width="0.85"/>
<text x="32.0" y="187.3" font-size="7.20" font-weight="normal" font-style="italic" text-anchor="start" fill="#3c3c3c"  stroke="#3c3c3c" stroke-width="0.10">45 minutes</text>
<text x="25.8" y="224.4" font-size="7.00" font-weight="bold" font-style="normal" text-anchor="end" fill="#1a1a1a"  stroke="#1a1a1a" stroke-width="0.22">1000</text>
<text x="25.8" y="241.4" font-size="7.00" font-weight="bold" font-style="normal" text-anchor="end" fill="#1a1a1a"  stroke="#1a1a1a" stroke-width="0.22">100</text>
<text x="25.8" y="258.2" font-size="7.00" font-weight="bold" font-style="normal" text-anchor="end" fill="#1a1a1a"  stroke="#1a1a1a" stroke-width="0.22">10</text>
<text x="25.8" y="275.0" font-size="7.00" font-weight="bold" font-style="normal" text-anchor="end" fill="#1a1a1a"  stroke="#1a1a1a" stroke-width="0.22">1</text>
<text x="25.8" y="292.0" font-size="7.00" font-weight="bold" font-style="normal" text-anchor="end" fill="#1a1a1a"  stroke="#1a1a1a" stroke-width="0.22">0</text>
<text x="131.5" y="224.2" font-size="7.50" font-weight="bold" font-style="normal" text-anchor="end" fill="#1a1a1a"  stroke="#1a1a1a" stroke-width="0.25">87</text>
<text x="131.5" y="241.6" font-size="7.50" font-weight="bold" font-style="normal" text-anchor="end" fill="#1a1a1a"  stroke="#1a1a1a" stroke-width="0.25">73</text>
<text x="131.5" y="258.6" font-size="7.50" font-weight="bold" font-style="normal" text-anchor="end" fill="#1a1a1a"  stroke="#1a1a1a" stroke-width="0.25">41</text>
<text x="131.5" y="275.6" font-size="7.50" font-weight="bold" font-style="normal" text-anchor="end" fill="#1a1a1a"  stroke="#1a1a1a" stroke-width="0.25">10</text>
<text x="131.5" y="292.6" font-size="7.50" font-weight="bold" font-style="normal" text-anchor="end" fill="#1a1a1a"  stroke="#1a1a1a" stroke-width="0.25">6</text>
<text transform="translate(5.2,249.6) rotate(-90)" font-size="7.30" font-weight="bold" text-anchor="middle" fill="#1a1a1a" stroke="#1a1a1a" stroke-width="0.22">[OVA] (pM)</text>
<text x="29.1" y="310.4" font-size="7.20" font-weight="bold" font-style="normal" text-anchor="start" fill="#1a1a1a"  stroke="#1a1a1a" stroke-width="0.22">NFAT1</text>
<line x1="58.4" y1="307.3" x2="123.5" y2="307.3" stroke="#111" stroke-width="1.7"/>
<path d="M122.5,303.5 L131.5,307.3 L122.5,311.1 Z" fill="#111"/>
<rect x="181.0" y="168.5" width="72.6" height="141.5" fill="#fff" stroke="#b4b4b4" stroke-width="1"/>
<path d="M181.5,205.20 L181.5,204.62 L182.0,204.51 L182.5,204.38 L183.0,204.25 L183.5,204.10 L184.0,203.94 L184.5,203.76 L185.0,203.57 L185.5,203.37 L186.0,203.15 L186.5,202.92 L187.0,202.68 L187.5,202.42 L188.0,202.15 L188.5,201.85 L189.0,201.53 L189.5,201.19 L190.0,200.81 L190.5,200.39 L191.0,199.93 L191.5,199.42 L192.0,198.86 L192.5,198.25 L193.0,197.58 L193.5,196.85 L194.0,196.07 L194.5,195.23 L195.0,194.36 L195.5,193.46 L196.0,192.54 L196.5,191.62 L197.0,190.71 L197.5,189.84 L198.0,189.03 L198.5,188.30 L199.0,187.66 L199.5,187.14 L200.0,186.75 L200.5,186.50 L201.0,186.40 L201.5,186.55 L202.0,187.33 L202.5,188.68 L203.0,190.48 L203.5,192.56 L204.0,194.74 L204.5,196.85 L205.0,198.78 L205.5,200.44 L206.0,201.80 L206.5,202.86 L207.0,203.65 L207.5,204.21 L208.0,204.59 L208.5,204.84 L209.0,204.99 L209.5,205.08 L210.0,205.14 L210.5,205.17 L211.0,205.18 L211.5,205.19 L212.0,205.20 L212.5,205.20 L213.0,205.20 L213.5,205.20 L214.0,205.20 L214.5,205.20 L215.0,205.20 L215.5,205.20 L216.0,205.20 L216.5,205.20 L217.0,205.20 L217.5,205.20 L218.0,205.20 L218.5,205.20 L219.0,205.20 L219.5,205.20 L220.0,205.20 L220.5,205.20 L221.0,205.20 L221.5,205.20 L222.0,205.20 L222.5,205.20 L223.0,205.20 L223.5,205.20 L224.0,205.20 L224.5,205.20 L225.0,205.20 L225.5,205.20 L226.0,205.20 L226.5,205.20 L227.0,205.20 L227.5,205.20 L228.0,205.20 L228.5,205.20 L229.0,205.20 L229.5,205.20 L230.0,205.20 L230.5,205.20 L231.0,205.20 L231.5,205.20 L232.0,205.20 L232.5,205.20 L233.0,205.20 L233.5,205.20 L234.0,205.20 L234.5,205.20 L235.0,205.20 L235.5,205.20 L236.0,205.20 L236.5,205.20 L237.0,205.20 L237.5,205.20 L238.0,205.20 L238.5,205.20 L239.0,205.20 L239.5,205.20 L240.0,205.20 L240.5,205.20 L241.0,205.20 L241.5,205.20 L242.0,205.20 L242.5,205.20 L243.0,205.20 L243.5,205.20 L244.0,205.20 L244.5,205.20 L245.0,205.20 L245.5,205.20 L246.0,205.20 L246.5,205.20 L247.0,205.20 L247.5,205.20 L248.0,205.20 L248.5,205.20 L249.0,205.20 L249.5,205.20 L250.0,205.20 L250.5,205.20 L251.0,205.20 L251.5,205.20 L252.0,205.20 L252.5,205.20 L253.0,205.20 L253.1,205.20 Z" fill="#e7e1e5" stroke="none"/>
<path d="M181.5,205.20 L181.5,205.20 L182.0,205.20 L182.5,205.20 L183.0,205.20 L183.5,205.20 L184.0,205.20 L184.5,205.20 L185.0,205.20 L185.5,205.20 L186.0,205.20 L186.5,205.20 L187.0,205.20 L187.5,205.20 L188.0,205.20 L188.5,205.20 L189.0,205.20 L189.5,205.20 L190.0,205.20 L190.5,205.19 L191.0,205.19 L191.5,205.18 L192.0,205.16 L192.5,205.14 L193.0,205.11 L193.5,205.07 L194.0,205.00 L194.5,204.92 L195.0,204.81 L195.5,204.67 L196.0,204.49 L196.5,204.27 L197.0,204.02 L197.5,203.73 L198.0,203.37 L198.5,203.09 L199.0,202.76 L199.5,202.48 L200.0,202.05 L200.5,201.72 L201.0,201.32 L201.5,201.26 L202.0,201.10 L202.5,201.26 L203.0,201.36 L203.5,201.80 L204.0,202.01 L204.5,202.34 L205.0,202.63 L205.5,203.07 L206.0,203.31 L206.5,203.63 L207.0,203.96 L207.5,204.24 L208.0,204.49 L208.5,204.67 L209.0,204.80 L209.5,204.90 L210.0,204.95 L210.5,204.94 L211.0,204.83 L211.5,204.55 L212.0,204.07 L212.5,203.10 L213.0,201.34 L213.5,198.83 L214.0,195.38 L214.5,191.19 L215.0,186.59 L215.5,181.47 L216.0,176.57 L216.5,172.79 L217.0,170.87 L217.5,170.63 L218.0,172.48 L218.5,175.91 L219.0,180.01 L219.5,184.39 L220.0,189.22 L220.5,193.07 L221.0,196.49 L221.5,199.34 L222.0,201.53 L222.5,202.93 L223.0,203.85 L223.5,204.40 L224.0,204.76 L224.5,204.98 L225.0,205.09 L225.5,205.15 L226.0,205.18 L226.5,205.19 L227.0,205.20 L227.5,205.20 L228.0,205.20 L228.5,205.20 L229.0,205.20 L229.5,205.20 L230.0,205.20 L230.5,205.20 L231.0,205.20 L231.5,205.20 L232.0,205.20 L232.5,205.20 L233.0,205.20 L233.5,205.20 L234.0,205.20 L234.5,205.20 L235.0,205.20 L235.5,205.20 L236.0,205.20 L236.5,205.20 L237.0,205.20 L237.5,205.20 L238.0,205.20 L238.5,205.20 L239.0,205.20 L239.5,205.20 L240.0,205.20 L240.5,205.20 L241.0,205.20 L241.5,205.20 L242.0,205.20 L242.5,205.20 L243.0,205.20 L243.5,205.20 L244.0,205.20 L244.5,205.20 L245.0,205.20 L245.5,205.20 L246.0,205.20 L246.5,205.20 L247.0,205.20 L247.5,205.20 L248.0,205.20 L248.5,205.20 L249.0,205.20 L249.5,205.20 L250.0,205.20 L250.5,205.20 L251.0,205.20 L251.5,205.20 L252.0,205.20 L252.5,205.20 L253.0,205.20 L253.1,205.20 Z" fill="#7689cc" fill-opacity="0.95" stroke="#4a5a98" stroke-width="0.6"/>
<path d="M181.5,204.58 L182.0,204.46 L182.5,204.36 L183.0,204.24 L183.5,204.06 L184.0,203.86 L184.5,203.65 L185.0,203.53 L185.5,203.37 L186.0,203.22 L186.5,203.01 L187.0,202.64 L187.5,202.32 L188.0,201.89 L188.5,201.35 L189.0,200.72 L189.5,200.54 L190.0,199.90 L190.5,199.40 L191.0,198.78 L191.5,198.43 L192.0,197.79 L192.5,197.54 L193.0,196.69 L193.5,196.08 L194.0,194.99 L194.5,194.11 L195.0,192.77 L195.5,191.88 L196.0,190.85 L196.5,190.32 L197.0,189.19 L197.5,188.31 L198.0,187.52 L198.5,186.99 L199.0,186.06 L199.5,185.84 L200.0,185.84 L200.5,185.52 L201.0,185.33 L201.5,185.35 L202.0,186.13 L202.5,187.35 L203.0,189.17 L203.5,191.51 L204.0,193.89 L204.5,195.95 L205.0,198.06 L205.5,199.87 L206.0,201.10 L206.5,202.33 L207.0,203.18 L207.5,203.77 L208.0,204.34 L208.5,204.69 L209.0,204.90 L209.5,205.02 L210.0,205.10" fill="none" stroke="#95244e" stroke-width="1.0" stroke-linejoin="round"/>
<line x1="181.0" y1="205.2" x2="253.6" y2="205.2" stroke="#555" stroke-width="0.9"/>
<path d="M181.5,240.20 L181.5,239.79 L182.0,239.70 L182.5,239.61 L183.0,239.50 L183.5,239.38 L184.0,239.25 L184.5,239.11 L185.0,238.96 L185.5,238.80 L186.0,238.63 L186.5,238.45 L187.0,238.26 L187.5,238.07 L188.0,237.88 L188.5,237.67 L189.0,237.45 L189.5,237.22 L190.0,236.96 L190.5,236.68 L191.0,236.35 L191.5,235.98 L192.0,235.56 L192.5,235.06 L193.0,234.49 L193.5,233.83 L194.0,233.08 L194.5,232.23 L195.0,231.28 L195.5,230.23 L196.0,229.11 L196.5,227.92 L197.0,226.68 L197.5,225.43 L198.0,224.19 L198.5,223.00 L199.0,221.89 L199.5,220.90 L200.0,220.07 L200.5,219.42 L201.0,218.98 L201.5,218.77 L202.0,218.85 L202.5,219.64 L203.0,221.17 L203.5,223.27 L204.0,225.72 L204.5,228.30 L205.0,230.81 L205.5,233.07 L206.0,235.00 L206.5,236.56 L207.0,237.75 L207.5,238.61 L208.0,239.21 L208.5,239.61 L209.0,239.86 L209.5,240.01 L210.0,240.10 L210.5,240.15 L211.0,240.17 L211.5,240.19 L212.0,240.19 L212.5,240.20 L213.0,240.20 L213.5,240.20 L214.0,240.20 L214.5,240.20 L215.0,240.20 L215.5,240.20 L216.0,240.20 L216.5,240.20 L217.0,240.20 L217.5,240.20 L218.0,240.20 L218.5,240.20 L219.0,240.20 L219.5,240.20 L220.0,240.20 L220.5,240.20 L221.0,240.20 L221.5,240.20 L222.0,240.20 L222.5,240.20 L223.0,240.20 L223.5,240.20 L224.0,240.20 L224.5,240.20 L225.0,240.20 L225.5,240.20 L226.0,240.20 L226.5,240.20 L227.0,240.20 L227.5,240.20 L228.0,240.20 L228.5,240.20 L229.0,240.20 L229.5,240.20 L230.0,240.20 L230.5,240.20 L231.0,240.20 L231.5,240.20 L232.0,240.20 L232.5,240.20 L233.0,240.20 L233.5,240.20 L234.0,240.20 L234.5,240.20 L235.0,240.20 L235.5,240.20 L236.0,240.20 L236.5,240.20 L237.0,240.20 L237.5,240.20 L238.0,240.20 L238.5,240.20 L239.0,240.20 L239.5,240.20 L240.0,240.20 L240.5,240.20 L241.0,240.20 L241.5,240.20 L242.0,240.20 L242.5,240.20 L243.0,240.20 L243.5,240.20 L244.0,240.20 L244.5,240.20 L245.0,240.20 L245.5,240.20 L246.0,240.20 L246.5,240.20 L247.0,240.20 L247.5,240.20 L248.0,240.20 L248.5,240.20 L249.0,240.20 L249.5,240.20 L250.0,240.20 L250.5,240.20 L251.0,240.20 L251.5,240.20 L252.0,240.20 L252.5,240.20 L253.0,240.20 L253.1,240.20 Z" fill="#e7e1e5" stroke="none"/>
<path d="M181.5,240.20 L181.5,240.20 L182.0,240.20 L182.5,240.20 L183.0,240.20 L183.5,240.20 L184.0,240.20 L184.5,240.20 L185.0,240.20 L185.5,240.20 L186.0,240.20 L186.5,240.20 L187.0,240.20 L187.5,240.20 L188.0,240.20 L188.5,240.20 L189.0,240.20 L189.5,240.20 L190.0,240.20 L190.5,240.19 L191.0,240.19 L191.5,240.18 L192.0,240.17 L192.5,240.15 L193.0,240.12 L193.5,240.07 L194.0,240.01 L194.5,239.92 L195.0,239.81 L195.5,239.65 L196.0,239.45 L196.5,239.15 L197.0,238.85 L197.5,238.54 L198.0,238.16 L198.5,237.77 L199.0,237.26 L199.5,236.63 L200.0,236.12 L200.5,235.74 L201.0,235.30 L201.5,235.19 L202.0,234.98 L202.5,234.99 L203.0,235.05 L203.5,235.17 L204.0,235.26 L204.5,235.80 L205.0,236.16 L205.5,236.59 L206.0,237.21 L206.5,237.73 L207.0,238.19 L207.5,238.60 L208.0,238.94 L208.5,239.20 L209.0,239.45 L209.5,239.64 L210.0,239.78 L210.5,239.85 L211.0,239.84 L211.5,239.70 L212.0,239.36 L212.5,238.70 L213.0,237.49 L213.5,235.30 L214.0,232.69 L214.5,229.12 L215.0,224.67 L215.5,219.99 L216.0,215.30 L216.5,210.85 L217.0,208.05 L217.5,206.87 L218.0,207.52 L218.5,209.54 L219.0,212.97 L219.5,216.91 L220.0,221.27 L220.5,225.59 L221.0,229.36 L221.5,232.62 L222.0,235.30 L222.5,237.09 L223.0,238.27 L223.5,239.15 L224.0,239.58 L224.5,239.87 L225.0,240.04 L225.5,240.12 L226.0,240.16 L226.5,240.18 L227.0,240.19 L227.5,240.20 L228.0,240.20 L228.5,240.20 L229.0,240.20 L229.5,240.20 L230.0,240.20 L230.5,240.20 L231.0,240.20 L231.5,240.20 L232.0,240.20 L232.5,240.20 L233.0,240.20 L233.5,240.20 L234.0,240.20 L234.5,240.20 L235.0,240.20 L235.5,240.20 L236.0,240.20 L236.5,240.20 L237.0,240.20 L237.5,240.20 L238.0,240.20 L238.5,240.20 L239.0,240.20 L239.5,240.20 L240.0,240.20 L240.5,240.20 L241.0,240.20 L241.5,240.20 L242.0,240.20 L242.5,240.20 L243.0,240.20 L243.5,240.20 L244.0,240.20 L244.5,240.20 L245.0,240.20 L245.5,240.20 L246.0,240.20 L246.5,240.20 L247.0,240.20 L247.5,240.20 L248.0,240.20 L248.5,240.20 L249.0,240.20 L249.5,240.20 L250.0,240.20 L250.5,240.20 L251.0,240.20 L251.5,240.20 L252.0,240.20 L252.5,240.20 L253.0,240.20 L253.1,240.20 Z" fill="#7689cc" fill-opacity="0.95" stroke="#4a5a98" stroke-width="0.6"/>
<path d="M181.5,239.74 L182.0,239.64 L182.5,239.53 L183.0,239.41 L183.5,239.31 L184.0,239.12 L184.5,238.98 L185.0,238.70 L185.5,238.60 L186.0,238.36 L186.5,238.23 L187.0,237.86 L187.5,237.64 L188.0,237.33 L188.5,237.01 L189.0,236.61 L189.5,236.56 L190.0,236.24 L190.5,235.66 L191.0,235.08 L191.5,234.91 L192.0,234.12 L192.5,233.73 L193.0,233.00 L193.5,232.36 L194.0,231.63 L194.5,230.60 L195.0,229.40 L195.5,228.65 L196.0,227.39 L196.5,226.09 L197.0,224.84 L197.5,223.70 L198.0,222.61 L198.5,221.51 L199.0,220.35 L199.5,219.83 L200.0,219.24 L200.5,218.59 L201.0,218.35 L201.5,218.17 L202.0,217.82 L202.5,218.49 L203.0,220.00 L203.5,222.32 L204.0,224.57 L204.5,227.61 L205.0,229.91 L205.5,231.97 L206.0,233.76 L206.5,235.58 L207.0,236.94 L207.5,238.03 L208.0,238.86 L208.5,239.40 L209.0,239.71 L209.5,239.92 L210.0,240.04 L210.5,240.12" fill="none" stroke="#95244e" stroke-width="1.0" stroke-linejoin="round"/>
<line x1="181.0" y1="240.2" x2="253.6" y2="240.2" stroke="#555" stroke-width="0.9"/>
<path d="M181.5,275.20 L181.5,275.18 L182.0,275.18 L182.5,275.17 L183.0,275.15 L183.5,275.14 L184.0,275.11 L184.5,275.08 L185.0,275.04 L185.5,274.99 L186.0,274.93 L186.5,274.85 L187.0,274.76 L187.5,274.65 L188.0,274.52 L188.5,274.38 L189.0,274.21 L189.5,274.02 L190.0,273.81 L190.5,273.58 L191.0,273.31 L191.5,273.01 L192.0,272.66 L192.5,272.26 L193.0,271.79 L193.5,271.24 L194.0,270.58 L194.5,269.82 L195.0,268.93 L195.5,267.90 L196.0,266.73 L196.5,265.43 L197.0,264.01 L197.5,262.50 L198.0,260.95 L198.5,259.39 L199.0,257.90 L199.5,256.52 L200.0,255.33 L200.5,254.39 L201.0,253.74 L201.5,253.42 L202.0,253.46 L202.5,253.85 L203.0,254.59 L203.5,255.63 L204.0,256.93 L204.5,258.43 L205.0,260.07 L205.5,261.78 L206.0,263.51 L206.5,265.18 L207.0,266.76 L207.5,268.21 L208.0,269.52 L208.5,270.65 L209.0,271.63 L209.5,272.44 L210.0,273.10 L210.5,273.64 L211.0,274.05 L211.5,274.37 L212.0,274.61 L212.5,274.79 L213.0,274.92 L213.5,275.01 L214.0,275.08 L214.5,275.12 L215.0,275.15 L215.5,275.17 L216.0,275.18 L216.5,275.19 L217.0,275.19 L217.5,275.20 L218.0,275.20 L218.5,275.20 L219.0,275.20 L219.5,275.20 L220.0,275.20 L220.5,275.20 L221.0,275.20 L221.5,275.20 L222.0,275.20 L222.5,275.20 L223.0,275.20 L223.5,275.20 L224.0,275.20 L224.5,275.20 L225.0,275.20 L225.5,275.20 L226.0,275.20 L226.5,275.20 L227.0,275.20 L227.5,275.20 L228.0,275.20 L228.5,275.20 L229.0,275.20 L229.5,275.20 L230.0,275.20 L230.5,275.20 L231.0,275.20 L231.5,275.20 L232.0,275.20 L232.5,275.20 L233.0,275.20 L233.5,275.20 L234.0,275.20 L234.5,275.20 L235.0,275.20 L235.5,275.20 L236.0,275.20 L236.5,275.20 L237.0,275.20 L237.5,275.20 L238.0,275.20 L238.5,275.20 L239.0,275.20 L239.5,275.20 L240.0,275.20 L240.5,275.20 L241.0,275.20 L241.5,275.20 L242.0,275.20 L242.5,275.20 L243.0,275.20 L243.5,275.20 L244.0,275.20 L244.5,275.20 L245.0,275.20 L245.5,275.20 L246.0,275.20 L246.5,275.20 L247.0,275.20 L247.5,275.20 L248.0,275.20 L248.5,275.20 L249.0,275.20 L249.5,275.20 L250.0,275.20 L250.5,275.20 L251.0,275.20 L251.5,275.20 L252.0,275.20 L252.5,275.20 L253.0,275.20 L253.1,275.20 Z" fill="#e7e1e5" stroke="none"/>
<path d="M181.5,275.20 L181.5,275.20 L182.0,275.20 L182.5,275.19 L183.0,275.19 L183.5,275.19 L184.0,275.19 L184.5,275.18 L185.0,275.18 L185.5,275.17 L186.0,275.16 L186.5,275.15 L187.0,275.13 L187.5,275.12 L188.0,275.10 L188.5,275.07 L189.0,275.04 L189.5,275.01 L190.0,274.96 L190.5,274.91 L191.0,274.86 L191.5,274.79 L192.0,274.71 L192.5,274.63 L193.0,274.53 L193.5,274.42 L194.0,274.34 L194.5,274.17 L195.0,273.99 L195.5,273.84 L196.0,273.71 L196.5,273.51 L197.0,273.43 L197.5,273.25 L198.0,273.18 L198.5,273.00 L199.0,272.84 L199.5,272.55 L200.0,272.55 L200.5,272.21 L201.0,272.02 L201.5,271.79 L202.0,271.84 L202.5,271.73 L203.0,271.70 L203.5,271.48 L204.0,271.58 L204.5,271.54 L205.0,271.65 L205.5,271.89 L206.0,272.13 L206.5,272.15 L207.0,272.21 L207.5,272.27 L208.0,272.43 L208.5,272.54 L209.0,272.72 L209.5,272.89 L210.0,272.86 L210.5,272.78 L211.0,272.73 L211.5,272.19 L212.0,271.22 L212.5,270.07 L213.0,268.00 L213.5,265.31 L214.0,261.93 L214.5,258.23 L215.0,253.72 L215.5,249.59 L216.0,245.61 L216.5,243.29 L217.0,242.02 L217.5,242.43 L218.0,244.32 L218.5,247.33 L219.0,250.71 L219.5,254.78 L220.0,259.07 L220.5,262.82 L221.0,266.04 L221.5,268.74 L222.0,270.76 L222.5,272.12 L223.0,273.23 L223.5,274.02 L224.0,274.47 L224.5,274.78 L225.0,274.97 L225.5,275.08 L226.0,275.14 L226.5,275.17 L227.0,275.18 L227.5,275.19 L228.0,275.20 L228.5,275.20 L229.0,275.20 L229.5,275.20 L230.0,275.20 L230.5,275.20 L231.0,275.20 L231.5,275.20 L232.0,275.20 L232.5,275.20 L233.0,275.20 L233.5,275.20 L234.0,275.20 L234.5,275.20 L235.0,275.20 L235.5,275.20 L236.0,275.20 L236.5,275.20 L237.0,275.20 L237.5,275.20 L238.0,275.20 L238.5,275.20 L239.0,275.20 L239.5,275.20 L240.0,275.20 L240.5,275.20 L241.0,275.20 L241.5,275.20 L242.0,275.20 L242.5,275.20 L243.0,275.20 L243.5,275.20 L244.0,275.20 L244.5,275.20 L245.0,275.20 L245.5,275.20 L246.0,275.20 L246.5,275.20 L247.0,275.20 L247.5,275.20 L248.0,275.20 L248.5,275.20 L249.0,275.20 L249.5,275.20 L250.0,275.20 L250.5,275.20 L251.0,275.20 L251.5,275.20 L252.0,275.20 L252.5,275.20 L253.0,275.20 L253.1,275.20 Z" fill="#7689cc" fill-opacity="0.95" stroke="#4a5a98" stroke-width="0.6"/>
<path d="M187.5,275.07 L188.0,275.01 L188.5,274.94 L189.0,274.84 L189.5,274.71 L190.0,274.55 L190.5,274.22 L191.0,274.02 L191.5,273.70 L192.0,273.40 L192.5,273.06 L193.0,272.69 L193.5,272.26 L194.0,271.90 L194.5,271.30 L195.0,271.10 L195.5,270.71 L196.0,270.39 L196.5,270.19 L197.0,270.07 L197.5,269.61 L198.0,269.17 L198.5,268.72 L199.0,268.09 L199.5,267.82 L200.0,267.52 L200.5,267.68 L201.0,267.35 L201.5,267.01 L202.0,266.52 L202.5,265.99 L203.0,265.61 L203.5,265.49 L204.0,265.46 L204.5,264.75 L205.0,264.13 L205.5,262.96 L206.0,261.65 L206.5,260.51 L207.0,259.65 L207.5,258.36 L208.0,257.42 L208.5,256.33 L209.0,255.15 L209.5,254.39 L210.0,253.89 L210.5,254.07 L211.0,254.86 L211.5,257.27 L212.0,259.85 L212.5,263.41 L213.0,266.52 L213.5,269.40 L214.0,271.23 L214.5,272.94 L215.0,273.91 L215.5,274.50 L216.0,274.84 L216.5,275.03 L217.0,275.12" fill="none" stroke="#95244e" stroke-width="1.0" stroke-linejoin="round"/>
<line x1="181.0" y1="275.2" x2="253.6" y2="275.2" stroke="#555" stroke-width="0.9"/>
<path d="M181.5,310.00 L181.5,310.00 L182.0,310.00 L182.5,309.99 L183.0,309.99 L183.5,309.98 L184.0,309.98 L184.5,309.97 L185.0,309.95 L185.5,309.94 L186.0,309.91 L186.5,309.88 L187.0,309.84 L187.5,309.79 L188.0,309.72 L188.5,309.65 L189.0,309.55 L189.5,309.44 L190.0,309.31 L190.5,309.16 L191.0,308.98 L191.5,308.78 L192.0,308.55 L192.5,308.28 L193.0,307.97 L193.5,307.62 L194.0,307.20 L194.5,306.71 L195.0,306.14 L195.5,305.45 L196.0,304.65 L196.5,303.71 L197.0,302.62 L197.5,301.38 L198.0,299.99 L198.5,298.47 L199.0,296.83 L199.5,295.13 L200.0,293.41 L200.5,291.73 L201.0,290.16 L201.5,288.76 L202.0,287.61 L202.5,286.77 L203.0,286.27 L203.5,286.16 L204.0,286.43 L204.5,287.09 L205.0,288.10 L205.5,289.42 L206.0,290.99 L206.5,292.73 L207.0,294.58 L207.5,296.46 L208.0,298.32 L208.5,300.10 L209.0,301.75 L209.5,303.24 L210.0,304.55 L210.5,305.69 L211.0,306.65 L211.5,307.44 L212.0,308.07 L212.5,308.58 L213.0,308.97 L213.5,309.26 L214.0,309.48 L214.5,309.64 L215.0,309.76 L215.5,309.84 L216.0,309.89 L216.5,309.93 L217.0,309.96 L217.5,309.97 L218.0,309.98 L218.5,309.99 L219.0,309.99 L219.5,310.00 L220.0,310.00 L220.5,310.00 L221.0,310.00 L221.5,310.00 L222.0,310.00 L222.5,310.00 L223.0,310.00 L223.5,310.00 L224.0,310.00 L224.5,310.00 L225.0,310.00 L225.5,310.00 L226.0,310.00 L226.5,310.00 L227.0,310.00 L227.5,310.00 L228.0,310.00 L228.5,310.00 L229.0,310.00 L229.5,310.00 L230.0,310.00 L230.5,310.00 L231.0,310.00 L231.5,310.00 L232.0,310.00 L232.5,310.00 L233.0,310.00 L233.5,310.00 L234.0,310.00 L234.5,310.00 L235.0,310.00 L235.5,310.00 L236.0,310.00 L236.5,310.00 L237.0,310.00 L237.5,310.00 L238.0,310.00 L238.5,310.00 L239.0,310.00 L239.5,310.00 L240.0,310.00 L240.5,310.00 L241.0,310.00 L241.5,310.00 L242.0,310.00 L242.5,310.00 L243.0,310.00 L243.5,310.00 L244.0,310.00 L244.5,310.00 L245.0,310.00 L245.5,310.00 L246.0,310.00 L246.5,310.00 L247.0,310.00 L247.5,310.00 L248.0,310.00 L248.5,310.00 L249.0,310.00 L249.5,310.00 L250.0,310.00 L250.5,310.00 L251.0,310.00 L251.5,310.00 L252.0,310.00 L252.5,310.00 L253.0,310.00 L253.1,310.00 Z" fill="#e7e1e5" stroke="none"/>
<path d="M181.5,310.00 L181.5,310.00 L182.0,310.00 L182.5,310.00 L183.0,310.00 L183.5,310.00 L184.0,310.00 L184.5,310.00 L185.0,310.00 L185.5,310.00 L186.0,310.00 L186.5,310.00 L187.0,309.99 L187.5,309.99 L188.0,309.98 L188.5,309.98 L189.0,309.96 L189.5,309.95 L190.0,309.93 L190.5,309.90 L191.0,309.86 L191.5,309.81 L192.0,309.75 L192.5,309.67 L193.0,309.57 L193.5,309.45 L194.0,309.31 L194.5,309.20 L195.0,309.00 L195.5,308.77 L196.0,308.46 L196.5,308.31 L197.0,308.04 L197.5,307.75 L198.0,307.55 L198.5,307.41 L199.0,307.16 L199.5,307.07 L200.0,306.91 L200.5,306.84 L201.0,306.71 L201.5,306.77 L202.0,306.67 L202.5,306.93 L203.0,306.85 L203.5,307.08 L204.0,307.09 L204.5,307.26 L205.0,307.23 L205.5,307.24 L206.0,307.12 L206.5,307.13 L207.0,307.12 L207.5,307.06 L208.0,307.07 L208.5,307.05 L209.0,306.98 L209.5,306.86 L210.0,306.73 L210.5,306.56 L211.0,306.15 L211.5,305.38 L212.0,304.20 L212.5,302.79 L213.0,300.81 L213.5,298.24 L214.0,295.13 L214.5,291.45 L215.0,287.68 L215.5,283.90 L216.0,280.85 L216.5,278.84 L217.0,277.92 L217.5,278.25 L218.0,280.10 L218.5,282.43 L219.0,285.32 L219.5,288.91 L220.0,292.64 L220.5,296.15 L221.0,299.60 L221.5,302.45 L222.0,304.75 L222.5,306.40 L223.0,307.61 L223.5,308.49 L224.0,309.05 L224.5,309.44 L225.0,309.68 L225.5,309.83 L226.0,309.91 L226.5,309.95 L227.0,309.98 L227.5,309.99 L228.0,310.00 L228.5,310.00 L229.0,310.00 L229.5,310.00 L230.0,310.00 L230.5,310.00 L231.0,310.00 L231.5,310.00 L232.0,310.00 L232.5,310.00 L233.0,310.00 L233.5,310.00 L234.0,310.00 L234.5,310.00 L235.0,310.00 L235.5,310.00 L236.0,310.00 L236.5,310.00 L237.0,310.00 L237.5,310.00 L238.0,310.00 L238.5,310.00 L239.0,310.00 L239.5,310.00 L240.0,310.00 L240.5,310.00 L241.0,310.00 L241.5,310.00 L242.0,310.00 L242.5,310.00 L243.0,310.00 L243.5,310.00 L244.0,310.00 L244.5,310.00 L245.0,310.00 L245.5,310.00 L246.0,310.00 L246.5,310.00 L247.0,310.00 L247.5,310.00 L248.0,310.00 L248.5,310.00 L249.0,310.00 L249.5,310.00 L250.0,310.00 L250.5,310.00 L251.0,310.00 L251.5,310.00 L252.0,310.00 L252.5,310.00 L253.0,310.00 L253.1,310.00 Z" fill="#7689cc" fill-opacity="0.95" stroke="#4a5a98" stroke-width="0.6"/>
<path d="M190.5,309.88 L191.0,309.83 L191.5,309.77 L192.0,309.70 L192.5,309.60 L193.0,309.49 L193.5,309.34 L194.0,309.21 L194.5,308.98 L195.0,308.69 L195.5,308.35 L196.0,308.05 L196.5,307.85 L197.0,307.48 L197.5,307.13 L198.0,306.81 L198.5,306.41 L199.0,305.92 L199.5,305.72 L200.0,305.62 L200.5,305.46 L201.0,305.51 L201.5,305.79 L202.0,305.83 L202.5,306.05 L203.0,306.18 L203.5,306.18 L204.0,306.11 L204.5,306.38 L205.0,306.33 L205.5,306.25 L206.0,306.25 L206.5,306.02 L207.0,305.74 L207.5,305.60 L208.0,305.74 L208.5,306.01 L209.0,306.08 L209.5,306.45 L210.0,306.43 L210.5,306.31 L211.0,306.05 L211.5,305.87 L212.0,304.64 L212.5,303.66 L213.0,301.74 L213.5,299.12 L214.0,295.87 L214.5,292.40 L215.0,288.24 L215.5,284.76 L216.0,281.29 L216.5,278.89 L217.0,277.98 L217.5,278.33 L218.0,279.82 L218.5,282.60 L219.0,285.85 L219.5,289.15 L220.0,292.89 L220.5,296.48 L221.0,299.34 L221.5,302.26 L222.0,304.83 L222.5,306.52 L223.0,307.70 L223.5,308.63 L224.0,309.16 L224.5,309.44 L225.0,309.68 L225.5,309.83 L226.0,309.91" fill="none" stroke="#95244e" stroke-width="1.0" stroke-linejoin="round"/>
<line x1="181.0" y1="310.0" x2="253.6" y2="310.0" stroke="#555" stroke-width="0.9"/>
<rect x="181.0" y="168.5" width="72.6" height="141.5" fill="none" stroke="#b4b4b4" stroke-width="1"/>
<line x1="188.0" y1="310.0" x2="188.0" y2="312.0" stroke="#555" stroke-width="0.6"/>
<line x1="193.6" y1="310.0" x2="193.6" y2="311.1" stroke="#555" stroke-width="0.6"/>
<line x1="196.8" y1="310.0" x2="196.8" y2="311.1" stroke="#555" stroke-width="0.6"/>
<line x1="199.1" y1="310.0" x2="199.1" y2="311.1" stroke="#555" stroke-width="0.6"/>
<line x1="200.9" y1="310.0" x2="200.9" y2="311.1" stroke="#555" stroke-width="0.6"/>
<line x1="202.4" y1="310.0" x2="202.4" y2="311.1" stroke="#555" stroke-width="0.6"/>
<line x1="203.6" y1="310.0" x2="203.6" y2="311.1" stroke="#555" stroke-width="0.6"/>
<line x1="204.7" y1="310.0" x2="204.7" y2="311.1" stroke="#555" stroke-width="0.6"/>
<line x1="205.6" y1="310.0" x2="205.6" y2="311.1" stroke="#555" stroke-width="0.6"/>
<line x1="206.5" y1="310.0" x2="206.5" y2="312.0" stroke="#555" stroke-width="0.6"/>
<line x1="212.1" y1="310.0" x2="212.1" y2="311.1" stroke="#555" stroke-width="0.6"/>
<line x1="215.3" y1="310.0" x2="215.3" y2="311.1" stroke="#555" stroke-width="0.6"/>
<line x1="217.6" y1="310.0" x2="217.6" y2="311.1" stroke="#555" stroke-width="0.6"/>
<line x1="219.4" y1="310.0" x2="219.4" y2="311.1" stroke="#555" stroke-width="0.6"/>
<line x1="220.9" y1="310.0" x2="220.9" y2="311.1" stroke="#555" stroke-width="0.6"/>
<line x1="222.1" y1="310.0" x2="222.1" y2="311.1" stroke="#555" stroke-width="0.6"/>
<line x1="223.2" y1="310.0" x2="223.2" y2="311.1" stroke="#555" stroke-width="0.6"/>
<line x1="224.1" y1="310.0" x2="224.1" y2="311.1" stroke="#555" stroke-width="0.6"/>
<line x1="225.0" y1="310.0" x2="225.0" y2="312.0" stroke="#555" stroke-width="0.6"/>
<line x1="230.6" y1="310.0" x2="230.6" y2="311.1" stroke="#555" stroke-width="0.6"/>
<line x1="233.8" y1="310.0" x2="233.8" y2="311.1" stroke="#555" stroke-width="0.6"/>
<line x1="236.1" y1="310.0" x2="236.1" y2="311.1" stroke="#555" stroke-width="0.6"/>
<line x1="237.9" y1="310.0" x2="237.9" y2="311.1" stroke="#555" stroke-width="0.6"/>
<line x1="239.4" y1="310.0" x2="239.4" y2="311.1" stroke="#555" stroke-width="0.6"/>
<line x1="240.6" y1="310.0" x2="240.6" y2="311.1" stroke="#555" stroke-width="0.6"/>
<line x1="241.7" y1="310.0" x2="241.7" y2="311.1" stroke="#555" stroke-width="0.6"/>
<line x1="242.6" y1="310.0" x2="242.6" y2="311.1" stroke="#555" stroke-width="0.6"/>
<line x1="243.5" y1="310.0" x2="243.5" y2="312.0" stroke="#555" stroke-width="0.6"/>
<line x1="249.1" y1="310.0" x2="249.1" y2="311.1" stroke="#555" stroke-width="0.6"/>
<text x="175.6" y="189.4" font-size="6.80" font-weight="bold" font-style="normal" text-anchor="end" fill="#1a1a1a"  stroke="#1a1a1a" stroke-width="0.22">90</text>
<text x="175.6" y="226.2" font-size="6.80" font-weight="bold" font-style="normal" text-anchor="end" fill="#1a1a1a"  stroke="#1a1a1a" stroke-width="0.22">60</text>
<text x="175.6" y="263.4" font-size="6.80" font-weight="bold" font-style="normal" text-anchor="end" fill="#1a1a1a"  stroke="#1a1a1a" stroke-width="0.22">30</text>
<text x="175.6" y="300.0" font-size="6.80" font-weight="bold" font-style="normal" text-anchor="end" fill="#1a1a1a"  stroke="#1a1a1a" stroke-width="0.22">0</text>
<text transform="translate(161.5,237.8) rotate(-90)" font-size="7.00" font-weight="bold" text-anchor="middle" fill="#1a1a1a" stroke="#1a1a1a" stroke-width="0.22">Time (min.)</text>
<text x="181.5" y="324.0" font-size="7.00" font-weight="bold" font-style="normal" text-anchor="start" fill="#1a1a1a"  stroke="#1a1a1a" stroke-width="0.22">NFAT1</text>
<line x1="205.2" y1="321.3" x2="242.5" y2="321.3" stroke="#111" stroke-width="1.4"/>
<path d="M240.5,318 L250,321.3 L240.5,324.6 Z" fill="#111"/>
<rect x="162.3" y="335.4" width="8.6" height="8.4" fill="#7890d2" stroke="#5068b4" stroke-width="0.7"/>
<text x="174.6" y="343.3" font-size="7.20" font-weight="normal" font-style="normal" text-anchor="start" fill="#1a1a1a"  stroke="#1a1a1a" stroke-width="0.12">OVA</text>
<rect x="194.8" y="335.6" width="8.2" height="8.0" fill="#fff" stroke="#9a3a5a" stroke-width="0.9"/>
<text x="207.7" y="339.1" font-size="7.10" font-weight="normal" font-style="normal" text-anchor="start" fill="#1a1a1a"  stroke="#1a1a1a" stroke-width="0.12">OVA +</text>
<text x="207.7" y="347.9" font-size="7.10" font-weight="normal" font-style="normal" text-anchor="start" fill="#1a1a1a"  stroke="#1a1a1a" stroke-width="0.12">EGTA</text>
<rect x="235" y="335.4" width="9" height="8.6" fill="#e4e4e4"/>
<text x="248.8" y="343.3" font-size="7.10" font-weight="normal" font-style="normal" text-anchor="start" fill="#1a1a1a"  stroke="#1a1a1a" stroke-width="0.12">Unstim.</text>
<line x1="197.8" y1="0" x2="197.8" y2="137.4" stroke="#6a6a6a" stroke-width="1.2"/>
<line x1="197.5" y1="137.4" x2="472.8" y2="137.4" stroke="#6a6a6a" stroke-width="1.2"/>
<line x1="195.6" y1="132.6" x2="197.8" y2="132.6" stroke="#6a6a6a" stroke-width="0.9"/>
<text x="194.2" y="135.1" font-size="7.00" font-weight="normal" font-style="normal" text-anchor="end" fill="#444"  stroke="#444" stroke-width="0.15">0</text>
<line x1="195.6" y1="96.5" x2="197.8" y2="96.5" stroke="#6a6a6a" stroke-width="0.9"/>
<text x="194.2" y="99.0" font-size="7.00" font-weight="normal" font-style="normal" text-anchor="end" fill="#444"  stroke="#444" stroke-width="0.15">25</text>
<line x1="195.6" y1="60.4" x2="197.8" y2="60.4" stroke="#6a6a6a" stroke-width="0.9"/>
<text x="194.2" y="62.9" font-size="7.00" font-weight="normal" font-style="normal" text-anchor="end" fill="#444"  stroke="#444" stroke-width="0.15">50</text>
<line x1="195.6" y1="24.3" x2="197.8" y2="24.3" stroke="#6a6a6a" stroke-width="0.9"/>
<text x="194.2" y="26.8" font-size="7.00" font-weight="normal" font-style="normal" text-anchor="end" fill="#444"  stroke="#444" stroke-width="0.15">75</text>
<line x1="210.7" y1="137.4" x2="210.7" y2="139.4" stroke="#6a6a6a" stroke-width="0.9"/>
<text x="210.7" y="145.9" font-size="6.90" font-weight="normal" font-style="normal" text-anchor="middle" fill="#444"  stroke="#444" stroke-width="0.15">0</text>
<line x1="262.7" y1="137.4" x2="262.7" y2="139.4" stroke="#6a6a6a" stroke-width="0.9"/>
<text x="262.7" y="145.9" font-size="6.90" font-weight="normal" font-style="normal" text-anchor="middle" fill="#444"  stroke="#444" stroke-width="0.15">50</text>
<line x1="314.7" y1="137.4" x2="314.7" y2="139.4" stroke="#6a6a6a" stroke-width="0.9"/>
<text x="314.7" y="145.9" font-size="6.90" font-weight="normal" font-style="normal" text-anchor="middle" fill="#444"  stroke="#444" stroke-width="0.15">100</text>
<line x1="366.7" y1="137.4" x2="366.7" y2="139.4" stroke="#6a6a6a" stroke-width="0.9"/>
<text x="366.7" y="145.9" font-size="6.90" font-weight="normal" font-style="normal" text-anchor="middle" fill="#444"  stroke="#444" stroke-width="0.15">150</text>
<line x1="418.7" y1="137.4" x2="418.7" y2="139.4" stroke="#6a6a6a" stroke-width="0.9"/>
<text x="418.7" y="145.9" font-size="6.90" font-weight="normal" font-style="normal" text-anchor="middle" fill="#444"  stroke="#444" stroke-width="0.15">200</text>
<line x1="470.7" y1="137.4" x2="470.7" y2="139.4" stroke="#6a6a6a" stroke-width="0.9"/>
<text x="470.7" y="145.9" font-size="6.90" font-weight="normal" font-style="normal" text-anchor="middle" fill="#444"  stroke="#444" stroke-width="0.15">250</text>
<text x="335.5" y="158.3" font-size="7.20" font-weight="bold" font-style="normal" text-anchor="middle" fill="#1a1a1a"  stroke="#1a1a1a" stroke-width="0.22">Time (min.)</text>
<text transform="translate(179.4,70.4) rotate(-90)" font-size="7.3" font-weight="bold" text-anchor="middle" fill="#1a1a1a" stroke="#1a1a1a" stroke-width="0.22">% NFAT<tspan font-size="4.5" dy="-2.5">+</tspan><tspan dy="2.5"> nuclei</tspan></text>
<circle cx="210.7" cy="125.4" r="2.0" fill="none" stroke="#c0c0c0" stroke-width="0.7"/>
<circle cx="215.9" cy="122.8" r="2.0" fill="none" stroke="#c0c0c0" stroke-width="0.7"/>
<circle cx="226.3" cy="123.6" r="2.0" fill="none" stroke="#c0c0c0" stroke-width="0.7"/>
<circle cx="241.9" cy="123.9" r="2.0" fill="none" stroke="#c0c0c0" stroke-width="0.7"/>
<circle cx="273.1" cy="123.4" r="2.0" fill="none" stroke="#c0c0c0" stroke-width="0.7"/>
<circle cx="335.5" cy="127.0" r="2.0" fill="none" stroke="#c0c0c0" stroke-width="0.7"/>
<circle cx="460.3" cy="129.7" r="2.0" fill="none" stroke="#c0c0c0" stroke-width="0.7"/>
<path d="M210.7,120.2 L213.1,124.4 L208.3,124.4 Z" fill="none" stroke="#9aa4b8" stroke-width="0.7"/>
<path d="M215.9,109.4 L218.3,113.6 L213.5,113.6 Z" fill="none" stroke="#9aa4b8" stroke-width="0.7"/>
<path d="M215.9,113.0 L218.3,117.2 L213.5,117.2 Z" fill="none" stroke="#9aa4b8" stroke-width="0.7"/>
<path d="M226.3,118.0 L228.7,122.2 L223.9,122.2 Z" fill="none" stroke="#9aa4b8" stroke-width="0.7"/>
<path d="M241.9,117.9 L244.3,122.1 L239.5,122.1 Z" fill="none" stroke="#9aa4b8" stroke-width="0.7"/>
<path d="M273.1,113.1 L275.5,117.3 L270.7,117.3 Z" fill="none" stroke="#9aa4b8" stroke-width="0.7"/>
<path d="M335.5,107.9 L337.9,112.1 L333.1,112.1 Z" fill="none" stroke="#9aa4b8" stroke-width="0.7"/>
<path d="M335.5,118.9 L337.9,123.1 L333.1,123.1 Z" fill="none" stroke="#9aa4b8" stroke-width="0.7"/>
<path d="M460.3,109.1 L462.7,113.3 L457.9,113.3 Z" fill="none" stroke="#9aa4b8" stroke-width="0.7"/>
<path d="M460.3,122.8 L462.7,127.0 L457.9,127.0 Z" fill="none" stroke="#9aa4b8" stroke-width="0.7"/>
<rect x="208.6" y="121.8" width="4.2" height="4.2" fill="none" stroke="#8590aa" stroke-width="0.7"/>
<rect x="208.6" y="117.5" width="4.2" height="4.2" fill="none" stroke="#8590aa" stroke-width="0.7"/>
<rect x="213.8" y="113.2" width="4.2" height="4.2" fill="none" stroke="#8590aa" stroke-width="0.7"/>
<rect x="224.2" y="102.8" width="4.2" height="4.2" fill="none" stroke="#8590aa" stroke-width="0.7"/>
<rect x="224.2" y="114.6" width="4.2" height="4.2" fill="none" stroke="#8590aa" stroke-width="0.7"/>
<rect x="224.2" y="120.8" width="4.2" height="4.2" fill="none" stroke="#8590aa" stroke-width="0.7"/>
<rect x="239.8" y="88.0" width="4.2" height="4.2" fill="none" stroke="#8590aa" stroke-width="0.7"/>
<rect x="239.8" y="93.7" width="4.2" height="4.2" fill="none" stroke="#8590aa" stroke-width="0.7"/>
<rect x="271.0" y="64.9" width="4.2" height="4.2" fill="none" stroke="#8590aa" stroke-width="0.7"/>
<rect x="271.0" y="70.0" width="4.2" height="4.2" fill="none" stroke="#8590aa" stroke-width="0.7"/>
<rect x="333.4" y="47.5" width="4.2" height="4.2" fill="none" stroke="#8590aa" stroke-width="0.7"/>
<rect x="333.4" y="65.1" width="4.2" height="4.2" fill="none" stroke="#8590aa" stroke-width="0.7"/>
<rect x="458.2" y="34.3" width="4.2" height="4.2" fill="none" stroke="#8590aa" stroke-width="0.7"/>
<rect x="458.2" y="61.2" width="4.2" height="4.2" fill="none" stroke="#8590aa" stroke-width="0.7"/>
<path d="M207.6,123.9 L213.8,123.9 M210.7,120.3 L210.7,127.5" stroke="#5a6c9e" stroke-width="0.75"/>
<path d="M207.6,121.0 L213.8,121.0 M210.7,117.4 L210.7,124.6" stroke="#5a6c9e" stroke-width="0.75"/>
<path d="M212.8,75.1 L219.0,75.1 M215.9,71.5 L215.9,78.7" stroke="#5a6c9e" stroke-width="0.75"/>
<path d="M223.2,58.7 L229.4,58.7 M226.3,55.1 L226.3,62.3" stroke="#5a6c9e" stroke-width="0.75"/>
<path d="M223.2,77.7 L229.4,77.7 M226.3,74.1 L226.3,81.3" stroke="#5a6c9e" stroke-width="0.75"/>
<path d="M238.8,37.3 L245.0,37.3 M241.9,33.7 L241.9,40.9" stroke="#5a6c9e" stroke-width="0.75"/>
<path d="M238.8,51.3 L245.0,51.3 M241.9,47.7 L241.9,54.9" stroke="#5a6c9e" stroke-width="0.75"/>
<path d="M270.0,22.6 L276.2,22.6 M273.1,19.0 L273.1,26.2" stroke="#5a6c9e" stroke-width="0.75"/>
<path d="M332.4,17.7 L338.6,17.7 M335.5,14.1 L335.5,21.3" stroke="#5a6c9e" stroke-width="0.75"/>
<path d="M457.2,19.5 L463.4,19.5 M460.3,15.9 L460.3,23.1" stroke="#5a6c9e" stroke-width="0.75"/>
<rect x="208.4" y="122.4" width="4.6" height="4.6" fill="none" stroke="#34427e" stroke-width="0.7"/>
<path d="M208.4,122.4 L213.0,127.0 M208.4,127.0 L213.0,122.4" stroke="#34427e" stroke-width="0.7"/>
<rect x="208.4" y="120.2" width="4.6" height="4.6" fill="none" stroke="#34427e" stroke-width="0.7"/>
<path d="M208.4,120.2 L213.0,124.8 M208.4,124.8 L213.0,120.2" stroke="#34427e" stroke-width="0.7"/>
<rect x="213.6" y="32.5" width="4.6" height="4.6" fill="none" stroke="#34427e" stroke-width="0.7"/>
<path d="M213.6,32.5 L218.2,37.1 M213.6,37.1 L218.2,32.5" stroke="#34427e" stroke-width="0.7"/>
<rect x="213.6" y="89.1" width="4.6" height="4.6" fill="none" stroke="#34427e" stroke-width="0.7"/>
<path d="M213.6,89.1 L218.2,93.7 M213.6,93.7 L218.2,89.1" stroke="#34427e" stroke-width="0.7"/>
<rect x="224.0" y="21.3" width="4.6" height="4.6" fill="none" stroke="#34427e" stroke-width="0.7"/>
<path d="M224.0,21.3 L228.6,25.9 M224.0,25.9 L228.6,21.3" stroke="#34427e" stroke-width="0.7"/>
<rect x="224.0" y="31.4" width="4.6" height="4.6" fill="none" stroke="#34427e" stroke-width="0.7"/>
<path d="M224.0,31.4 L228.6,36.0 M224.0,36.0 L228.6,31.4" stroke="#34427e" stroke-width="0.7"/>
<rect x="239.6" y="11.0" width="4.6" height="4.6" fill="none" stroke="#34427e" stroke-width="0.7"/>
<path d="M239.6,11.0 L244.2,15.6 M239.6,15.6 L244.2,11.0" stroke="#34427e" stroke-width="0.7"/>
<rect x="239.6" y="13.8" width="4.6" height="4.6" fill="none" stroke="#34427e" stroke-width="0.7"/>
<path d="M239.6,13.8 L244.2,18.4 M239.6,18.4 L244.2,13.8" stroke="#34427e" stroke-width="0.7"/>
<rect x="270.8" y="3.7" width="4.6" height="4.6" fill="none" stroke="#34427e" stroke-width="0.7"/>
<path d="M270.8,3.7 L275.4,8.3 M270.8,8.3 L275.4,3.7" stroke="#34427e" stroke-width="0.7"/>
<rect x="270.8" y="7.1" width="4.6" height="4.6" fill="none" stroke="#34427e" stroke-width="0.7"/>
<path d="M270.8,7.1 L275.4,11.7 M270.8,11.7 L275.4,7.1" stroke="#34427e" stroke-width="0.7"/>
<rect x="333.2" y="4.7" width="4.6" height="4.6" fill="none" stroke="#34427e" stroke-width="0.7"/>
<path d="M333.2,4.7 L337.8,9.3 M333.2,9.3 L337.8,4.7" stroke="#34427e" stroke-width="0.7"/>
<rect x="333.2" y="7.6" width="4.6" height="4.6" fill="none" stroke="#34427e" stroke-width="0.7"/>
<path d="M333.2,7.6 L337.8,12.2 M333.2,12.2 L337.8,7.6" stroke="#34427e" stroke-width="0.7"/>
<rect x="458.0" y="13.3" width="4.6" height="4.6" fill="none" stroke="#34427e" stroke-width="0.7"/>
<path d="M458.0,13.3 L462.6,17.9 M458.0,17.9 L462.6,13.3" stroke="#34427e" stroke-width="0.7"/>
<rect x="458.0" y="14.8" width="4.6" height="4.6" fill="none" stroke="#34427e" stroke-width="0.7"/>
<path d="M458.0,14.8 L462.6,19.4 M458.0,19.4 L462.6,14.8" stroke="#34427e" stroke-width="0.7"/>
<polyline points="210.7,121.0 215.9,121.8 226.3,122.5 241.9,123.6 273.1,124.2 335.5,127.0 460.3,129.9" fill="none" stroke="#c8c8c8" stroke-width="1.2" stroke-linejoin="round"/>
<polyline points="210.7,119.6 215.9,118.9 226.3,120.8 241.9,121.3 273.1,115.8 335.5,116.1 460.3,119.2" fill="none" stroke="#93a6c6" stroke-width="1.2" stroke-linejoin="round"/>
<polyline points="210.7,122.5 215.9,116.4 226.3,110.7 241.9,94.3 273.1,70.8 335.5,58.7 460.3,50.0" fill="none" stroke="#6f82ac" stroke-width="1.2" stroke-linejoin="round"/>
<polyline points="210.7,123.2 215.9,100.8 226.3,68.2 241.9,44.2 273.1,22.6 335.5,16.2 460.3,18.1" fill="none" stroke="#52669c" stroke-width="1.2" stroke-linejoin="round"/>
<polyline points="210.7,123.2 215.9,63.3 226.3,28.6 241.9,14.8 273.1,7.7 335.5,8.4 460.3,15.9" fill="none" stroke="#37447c" stroke-width="1.2" stroke-linejoin="round"/>
<text x="483.0" y="39.6" font-size="7.30" font-weight="bold" font-style="normal" text-anchor="start" fill="#1a1a1a"  stroke="#1a1a1a" stroke-width="0.22">[OVA] (pM)</text>
<line x1="481.8" y1="46.6" x2="490.8" y2="46.6" stroke="#37447c" stroke-width="1.2"/>
<rect x="484.5" y="44.8" width="3.6" height="3.6" fill="none" stroke="#37447c" stroke-width="0.7"/>
<path d="M484.5,44.8 L488.1,48.4 M484.5,48.4 L488.1,44.8" stroke="#37447c" stroke-width="0.7"/>
<text x="494.8" y="49.2" font-size="7.30" font-weight="bold" font-style="normal" text-anchor="start" fill="#1a1a1a"  stroke="#1a1a1a" stroke-width="0.22">1000</text>
<line x1="481.8" y1="58.5" x2="490.8" y2="58.5" stroke="#52669c" stroke-width="1.2"/>
<path d="M484.0,58.5 L488.6,58.5 M486.3,55.8 L486.3,61.2" stroke="#52669c" stroke-width="0.75"/>
<text x="494.8" y="61.1" font-size="7.30" font-weight="bold" font-style="normal" text-anchor="start" fill="#1a1a1a"  stroke="#1a1a1a" stroke-width="0.22">100</text>
<line x1="481.8" y1="70.4" x2="490.8" y2="70.4" stroke="#6f82ac" stroke-width="1.2"/>
<rect x="484.5" y="68.6" width="3.6" height="3.6" fill="none" stroke="#6f82ac" stroke-width="0.7"/>
<text x="494.8" y="73.0" font-size="7.30" font-weight="bold" font-style="normal" text-anchor="start" fill="#1a1a1a"  stroke="#1a1a1a" stroke-width="0.22">10</text>
<line x1="481.8" y1="82.3" x2="490.8" y2="82.3" stroke="#93a6c6" stroke-width="1.2"/>
<path d="M486.3,80.3 L488.4,83.9 L484.2,83.9 Z" fill="none" stroke="#93a6c6" stroke-width="0.7"/>
<text x="494.8" y="84.9" font-size="7.30" font-weight="bold" font-style="normal" text-anchor="start" fill="#1a1a1a"  stroke="#1a1a1a" stroke-width="0.22">1</text>
<line x1="481.8" y1="94.2" x2="490.8" y2="94.2" stroke="#c8c8c8" stroke-width="1.2"/>
<circle cx="486.3" cy="94.2" r="1.8" fill="none" stroke="#c8c8c8" stroke-width="0.7"/>
<text x="494.8" y="96.8" font-size="7.30" font-weight="bold" font-style="normal" text-anchor="start" fill="#1a1a1a"  stroke="#1a1a1a" stroke-width="0.22">0</text>
<line x1="306.4" y1="179" x2="306.4" y2="300.9" stroke="#4a4a4a" stroke-width="1.1"/>
<line x1="305.9" y1="300.9" x2="513" y2="300.9" stroke="#4a4a4a" stroke-width="1.1"/>
<line x1="304.3" y1="283.1" x2="306.3" y2="283.1" stroke="#4a4a4a" stroke-width="0.8"/>
<text x="303.0" y="284.8" font-size="4.80" font-weight="normal" font-style="normal" text-anchor="end" fill="#333" >500</text>
<line x1="304.3" y1="255.1" x2="306.3" y2="255.1" stroke="#4a4a4a" stroke-width="0.8"/>
<text x="303.0" y="256.8" font-size="4.80" font-weight="normal" font-style="normal" text-anchor="end" fill="#333" >1000</text>
<line x1="304.3" y1="227.1" x2="306.3" y2="227.1" stroke="#4a4a4a" stroke-width="0.8"/>
<text x="303.0" y="228.8" font-size="4.80" font-weight="normal" font-style="normal" text-anchor="end" fill="#333" >1500</text>
<line x1="304.3" y1="199.0" x2="306.3" y2="199.0" stroke="#4a4a4a" stroke-width="0.8"/>
<text x="303.0" y="200.7" font-size="4.80" font-weight="normal" font-style="normal" text-anchor="end" fill="#333" >2000</text>
<line x1="315.3" y1="300.9" x2="315.3" y2="303.1" stroke="#4a4a4a" stroke-width="0.7"/>
<line x1="325.8" y1="300.9" x2="325.8" y2="302.1" stroke="#4a4a4a" stroke-width="0.7"/>
<line x1="336.3" y1="300.9" x2="336.3" y2="302.1" stroke="#4a4a4a" stroke-width="0.7"/>
<line x1="346.8" y1="300.9" x2="346.8" y2="302.1" stroke="#4a4a4a" stroke-width="0.7"/>
<line x1="357.3" y1="300.9" x2="357.3" y2="302.1" stroke="#4a4a4a" stroke-width="0.7"/>
<line x1="367.8" y1="300.9" x2="367.8" y2="302.1" stroke="#4a4a4a" stroke-width="0.7"/>
<line x1="378.3" y1="300.9" x2="378.3" y2="303.1" stroke="#4a4a4a" stroke-width="0.7"/>
<line x1="388.8" y1="300.9" x2="388.8" y2="302.1" stroke="#4a4a4a" stroke-width="0.7"/>
<line x1="399.3" y1="300.9" x2="399.3" y2="302.1" stroke="#4a4a4a" stroke-width="0.7"/>
<line x1="409.8" y1="300.9" x2="409.8" y2="302.1" stroke="#4a4a4a" stroke-width="0.7"/>
<line x1="420.3" y1="300.9" x2="420.3" y2="302.1" stroke="#4a4a4a" stroke-width="0.7"/>
<line x1="430.8" y1="300.9" x2="430.8" y2="302.1" stroke="#4a4a4a" stroke-width="0.7"/>
<line x1="441.3" y1="300.9" x2="441.3" y2="303.1" stroke="#4a4a4a" stroke-width="0.7"/>
<line x1="451.8" y1="300.9" x2="451.8" y2="302.1" stroke="#4a4a4a" stroke-width="0.7"/>
<line x1="462.3" y1="300.9" x2="462.3" y2="302.1" stroke="#4a4a4a" stroke-width="0.7"/>
<line x1="472.8" y1="300.9" x2="472.8" y2="302.1" stroke="#4a4a4a" stroke-width="0.7"/>
<line x1="483.3" y1="300.9" x2="483.3" y2="302.1" stroke="#4a4a4a" stroke-width="0.7"/>
<line x1="493.8" y1="300.9" x2="493.8" y2="302.1" stroke="#4a4a4a" stroke-width="0.7"/>
<line x1="504.3" y1="300.9" x2="504.3" y2="303.1" stroke="#4a4a4a" stroke-width="0.7"/>
<text x="315.3" y="308.0" font-size="5.00" font-weight="normal" font-style="normal" text-anchor="middle" fill="#333" >0</text>
<text x="378.3" y="308.0" font-size="5.00" font-weight="normal" font-style="normal" text-anchor="middle" fill="#333" >30</text>
<text x="441.3" y="308.0" font-size="5.00" font-weight="normal" font-style="normal" text-anchor="middle" fill="#333" >60</text>
<text x="504.3" y="308.0" font-size="5.00" font-weight="normal" font-style="normal" text-anchor="middle" fill="#333" >90</text>
<text x="409.0" y="318.0" font-size="7.00" font-weight="bold" font-style="normal" text-anchor="middle" fill="#1a1a1a"  stroke="#1a1a1a" stroke-width="0.22">Time (min.)</text>
<text transform="translate(287.1,236.7) rotate(-90)" font-size="7.25" font-weight="bold" text-anchor="middle" fill="#1a1a1a" stroke="#1a1a1a" stroke-width="0.22">NFAT m.f.i.</text>
<polyline points="315.3,289.3 346.8,291.6 378.3,291.6 441.3,291.8 504.3,293.2" fill="none" stroke="#cfcfcf" stroke-width="1.10" stroke-linejoin="round"/>
<rect x="311.9" y="285.9" width="6.8" height="6.8" fill="#c8c8c8"/>
<rect x="343.4" y="288.2" width="6.8" height="6.8" fill="#c8c8c8"/>
<rect x="374.9" y="288.2" width="6.8" height="6.8" fill="#c8c8c8"/>
<polyline points="315.3,194.5 346.8,233.2 378.3,261.8 441.3,290.4 504.3,295.5" fill="none" stroke="#c6bd62" stroke-width="1.30" stroke-linejoin="round"/>
<polyline points="315.3,191.7 346.8,227.6 378.3,259.6 441.3,288.8 504.3,294.4" fill="none" stroke="#dcab80" stroke-width="1.30" stroke-linejoin="round"/>
<polyline points="315.3,194.0 346.8,236.0 378.3,260.7 441.3,289.6 504.3,294.9" fill="none" stroke="#b0504e" stroke-width="1.10" stroke-linejoin="round"/>
<rect x="311.8" y="190.5" width="7" height="7" fill="none" stroke="#a04a8a" stroke-width="0.8"/>
<line x1="311.8" y1="194.0" x2="318.8" y2="194.0" stroke="#a04a8a" stroke-width="0.8"/>
<rect x="343.3" y="232.5" width="7" height="7" fill="none" stroke="#a04a8a" stroke-width="0.8"/>
<line x1="343.3" y1="236.0" x2="350.3" y2="236.0" stroke="#a04a8a" stroke-width="0.8"/>
<rect x="374.8" y="257.2" width="7" height="7" fill="none" stroke="#a04a8a" stroke-width="0.8"/>
<line x1="374.8" y1="260.7" x2="381.8" y2="260.7" stroke="#a04a8a" stroke-width="0.8"/>
<rect x="437.8" y="286.1" width="7" height="7" fill="none" stroke="#a04a8a" stroke-width="0.8"/>
<line x1="437.8" y1="289.6" x2="444.8" y2="289.6" stroke="#a04a8a" stroke-width="0.8"/>
<rect x="500.8" y="291.4" width="7" height="7" fill="none" stroke="#a04a8a" stroke-width="0.8"/>
<line x1="500.8" y1="294.9" x2="507.8" y2="294.9" stroke="#a04a8a" stroke-width="0.8"/>
<circle cx="315.3" cy="194.5" r="3.6" fill="none" stroke="#b8c060" stroke-width="0.8"/>
<circle cx="346.8" cy="233.2" r="3.6" fill="none" stroke="#b8c060" stroke-width="0.8"/>
<circle cx="378.3" cy="261.8" r="3.6" fill="none" stroke="#b8c060" stroke-width="0.8"/>
<circle cx="441.3" cy="290.4" r="3.6" fill="none" stroke="#b8c060" stroke-width="0.8"/>
<circle cx="504.3" cy="295.5" r="3.6" fill="none" stroke="#b8c060" stroke-width="0.8"/>
<path d="M315.3,186.7 L320.5,195.7 L310.1,195.7 Z" fill="none" stroke="#e0a060" stroke-width="0.9"/>
<path d="M346.8,222.6 L352.0,231.6 L341.6,231.6 Z" fill="none" stroke="#e0a060" stroke-width="0.9"/>
<path d="M378.3,254.6 L383.5,263.6 L373.1,263.6 Z" fill="none" stroke="#e0a060" stroke-width="0.9"/>
<path d="M441.3,283.8 L446.5,292.8 L436.1,292.8 Z" fill="none" stroke="#e0a060" stroke-width="0.9"/>
<path d="M504.3,289.4 L509.5,298.4 L499.1,298.4 Z" fill="none" stroke="#e0a060" stroke-width="0.9"/>
<rect x="437.9" y="288.4" width="6.8" height="6.8" fill="#c8c8c8" fill-opacity="0.6"/>
<rect x="500.9" y="289.8" width="6.8" height="6.8" fill="#c8c8c8" fill-opacity="0.6"/>
<polyline points="315.3,194.9 346.8,191.3 378.3,187.2 441.3,184.0 504.3,186.4" fill="none" stroke="#3e4c8e" stroke-width="1.20" stroke-linejoin="round"/>
<circle cx="315.3" cy="194.9" r="3.5" fill="#2b3b8b"/>
<circle cx="346.8" cy="191.3" r="3.5" fill="#2b3b8b"/>
<circle cx="378.3" cy="187.2" r="3.5" fill="#2b3b8b"/>
<circle cx="441.3" cy="184.0" r="3.5" fill="#2b3b8b"/>
<circle cx="504.3" cy="186.4" r="3.5" fill="#2b3b8b"/>
<circle cx="346.9" cy="330.2" r="4.1" fill="#24418f"/>
<text x="355.6" y="332.7" font-size="7.30" font-weight="normal" font-style="normal" text-anchor="start" fill="#1a1a1a"  stroke="#1a1a1a" stroke-width="0.12">OVA</text>
<rect x="343.0" y="338.0" width="7.8" height="7.4" fill="none" stroke="#a04a8a" stroke-width="0.9"/>
<line x1="343.0" y1="341.7" x2="350.8" y2="341.7" stroke="#a04a8a" stroke-width="0.9"/>
<text x="355.6" y="344.2" font-size="7.30" font-weight="normal" font-style="normal" text-anchor="start" fill="#1a1a1a"  stroke="#1a1a1a" stroke-width="0.12">OVA + EGTA</text>
<circle cx="346.9" cy="353.4" r="3.8" fill="none" stroke="#b8c060" stroke-width="0.9"/>
<line x1="343.1" y1="353.4" x2="350.7" y2="353.4" stroke="#b8c060" stroke-width="0.9"/>
<text x="355.6" y="356.0" font-size="7.30" font-weight="normal" font-style="normal" text-anchor="start" fill="#1a1a1a"  stroke="#1a1a1a" stroke-width="0.12">OVA + EDTA</text>
<path d="M417.8,324.8 L423.3,334 L412.3,334 Z" fill="none" stroke="#e0a060" stroke-width="0.9"/>
<line x1="414.5" y1="330.2" x2="421.1" y2="330.2" stroke="#e0a060" stroke-width="0.9"/>
<text x="425.4" y="332.4" font-size="7.30" font-weight="normal" font-style="normal" text-anchor="start" fill="#1a1a1a"  stroke="#1a1a1a" stroke-width="0.12">OVA + FK506</text>
<rect x="414.0" y="338.0" width="7.2" height="7.4" fill="#c8c8c8"/>
<text x="425.4" y="344.0" font-size="7.30" font-weight="normal" font-style="normal" text-anchor="start" fill="#1a1a1a"  stroke="#1a1a1a" stroke-width="0.12">Unstim.</text>
<text x="0.4" y="10.0" font-size="11.20" font-weight="normal" font-style="normal" text-anchor="start" fill="#111"  stroke="#111" stroke-width="0.30">A</text>
<text x="0.3" y="186.3" font-size="11.40" font-weight="normal" font-style="normal" text-anchor="start" fill="#111"  stroke="#111" stroke-width="0.30">B</text>
<text x="167.5" y="10.5" font-size="11.20" font-weight="normal" font-style="normal" text-anchor="start" fill="#111"  stroke="#111" stroke-width="0.30">C</text>
<text x="157.3" y="171.8" font-size="11.20" font-weight="normal" font-style="normal" text-anchor="start" fill="#111"  stroke="#111" stroke-width="0.30">D</text>
<text x="281.4" y="172.3" font-size="12.00" font-weight="normal" font-style="normal" text-anchor="start" fill="#111"  stroke="#111" stroke-width="0.30">E</text>
</svg>
</body></html>
